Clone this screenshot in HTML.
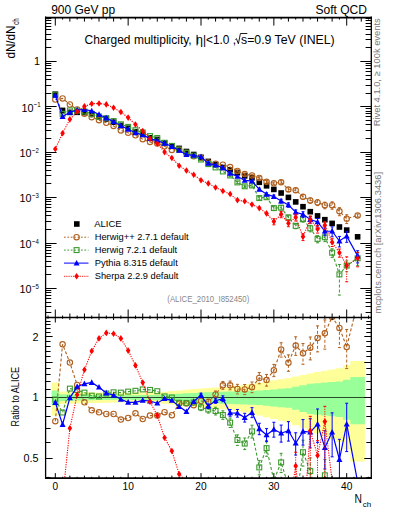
<!DOCTYPE html><html><head><meta charset="utf-8"><style>html,body{margin:0;padding:0;background:#fff;overflow:hidden}svg{display:block}</style></head><body><svg width="393" height="512" viewBox="0 0 393 512">
<rect x="0" y="0" width="393" height="512" fill="#fff"/>
<defs><clipPath id="cm"><rect x="45.6" y="17.6" width="325.7" height="299.9"/></clipPath>
<clipPath id="cr"><rect x="45.6" y="317.5" width="325.7" height="160.6"/></clipPath></defs>
<g clip-path="url(#cr)">
<path d="M51.66 382.61 L58.94 382.61 L58.94 391.43 L66.23 391.43 L66.23 391.63 L73.51 391.63 L73.51 391.83 L80.8 391.83 L80.8 392.03 L88.08 392.03 L88.08 392.23 L95.37 392.23 L95.37 392.43 L102.65 392.43 L102.65 392.63 L109.94 392.63 L109.94 392.83 L117.22 392.83 L117.22 392.76 L124.51 392.76 L124.51 392.69 L131.79 392.69 L131.79 392.62 L139.08 392.62 L139.08 392.55 L146.36 392.55 L146.36 392.48 L153.65 392.48 L153.65 392.41 L160.93 392.41 L160.93 391.73 L168.22 391.73 L168.22 391.05 L175.5 391.05 L175.5 390.38 L182.79 390.38 L182.79 389.71 L190.07 389.71 L190.07 389.05 L197.36 389.05 L197.36 388.39 L204.64 388.39 L204.64 388 L211.93 388 L211.93 387.61 L219.21 387.61 L219.21 387.22 L226.5 387.22 L226.5 386.83 L233.78 386.83 L233.78 385.76 L241.07 385.76 L241.07 384.69 L248.35 384.69 L248.35 383.65 L255.64 383.65 L255.64 382.61 L262.92 382.61 L262.92 381.44 L270.21 381.44 L270.21 380.28 L277.49 380.28 L277.49 379.15 L284.78 379.15 L284.78 378.02 L292.06 378.02 L292.06 376.45 L299.35 376.45 L299.35 374.91 L306.63 374.91 L306.63 373.4 L313.92 373.4 L313.92 372.05 L321.2 372.05 L321.2 370.72 L328.49 370.72 L328.49 369.42 L335.77 369.42 L335.77 368.13 L343.06 368.13 L343.06 365.19 L350.34 365.19 L350.34 360.95 L364.91 360.95 L364.91 461.57 L350.34 461.57 L350.34 449.37 L343.06 449.37 L343.06 442.09 L335.77 442.09 L335.77 439.16 L328.49 439.16 L328.49 436.32 L321.2 436.32 L321.2 433.57 L313.92 433.57 L313.92 430.91 L306.63 430.91 L306.63 428.06 L299.35 428.06 L299.35 425.29 L292.06 425.29 L292.06 422.61 L284.78 422.61 L284.78 420.77 L277.49 420.77 L277.49 418.97 L270.21 418.97 L270.21 417.2 L262.92 417.2 L262.92 415.46 L255.64 415.46 L255.64 413.98 L248.35 413.98 L248.35 412.51 L241.07 412.51 L241.07 411.07 L233.78 411.07 L233.78 409.66 L226.5 409.66 L226.5 409.16 L219.21 409.16 L219.21 408.66 L211.93 408.66 L211.93 408.16 L204.64 408.16 L204.64 407.67 L197.36 407.67 L197.36 406.86 L190.07 406.86 L190.07 406.05 L182.79 406.05 L182.79 405.25 L175.5 405.25 L175.5 404.46 L168.22 404.46 L168.22 403.68 L160.93 403.68 L160.93 402.9 L153.65 402.9 L153.65 402.82 L146.36 402.82 L146.36 402.75 L139.08 402.75 L139.08 402.67 L131.79 402.67 L131.79 402.59 L124.51 402.59 L124.51 402.52 L117.22 402.52 L117.22 402.44 L109.94 402.44 L109.94 402.66 L102.65 402.66 L102.65 402.89 L95.37 402.89 L95.37 403.11 L88.08 403.11 L88.08 403.34 L80.8 403.34 L80.8 403.57 L73.51 403.57 L73.51 403.79 L66.23 403.79 L66.23 404.02 L58.94 404.02 L58.94 415.46 L51.66 415.46Z" fill="#ffff99"/>
<path d="M51.66 390.38 L58.94 390.38 L58.94 394.24 L66.23 394.24 L66.23 394.4 L73.51 394.4 L73.51 394.56 L80.8 394.56 L80.8 394.71 L88.08 394.71 L88.08 394.87 L95.37 394.87 L95.37 395.03 L102.65 395.03 L102.65 395.19 L109.94 395.19 L109.94 395.34 L117.22 395.34 L117.22 395.27 L124.51 395.27 L124.51 395.2 L131.79 395.2 L131.79 395.13 L139.08 395.13 L139.08 395.06 L146.36 395.06 L146.36 394.99 L153.65 394.99 L153.65 394.92 L160.93 394.92 L160.93 394.53 L168.22 394.53 L168.22 394.13 L175.5 394.13 L175.5 393.74 L182.79 393.74 L182.79 393.35 L190.07 393.35 L190.07 392.96 L197.36 392.96 L197.36 392.58 L204.64 392.58 L204.64 392.29 L211.93 392.29 L211.93 392 L219.21 392 L219.21 391.72 L226.5 391.72 L226.5 391.43 L233.78 391.43 L233.78 391.21 L241.07 391.21 L241.07 390.98 L248.35 390.98 L248.35 390.76 L255.64 390.76 L255.64 390.54 L262.92 390.54 L262.92 389.96 L270.21 389.96 L270.21 389.38 L277.49 389.38 L277.49 388.8 L284.78 388.8 L284.78 388.23 L292.06 388.23 L292.06 386.68 L299.35 386.68 L299.35 385.15 L306.63 385.15 L306.63 383.65 L313.92 383.65 L313.92 383.13 L321.2 383.13 L321.2 382.61 L328.49 382.61 L328.49 382.1 L335.77 382.1 L335.77 381.58 L343.06 381.58 L343.06 379.74 L350.34 379.74 L350.34 377.05 L364.91 377.05 L364.91 424.26 L350.34 424.26 L350.34 419.82 L343.06 419.82 L343.06 416.98 L335.77 416.98 L335.77 416.22 L328.49 416.22 L328.49 415.46 L321.2 415.46 L321.2 414.72 L313.92 414.72 L313.92 413.98 L306.63 413.98 L306.63 411.89 L299.35 411.89 L299.35 409.86 L292.06 409.86 L292.06 407.87 L284.78 407.87 L284.78 407.16 L277.49 407.16 L277.49 406.46 L270.21 406.46 L270.21 405.76 L262.92 405.76 L262.92 405.06 L255.64 405.06 L255.64 404.8 L248.35 404.8 L248.35 404.54 L241.07 404.54 L241.07 404.28 L233.78 404.28 L233.78 404.02 L226.5 404.02 L226.5 403.69 L219.21 403.69 L219.21 403.37 L211.93 403.37 L211.93 403.04 L204.64 403.04 L204.64 402.72 L197.36 402.72 L197.36 402.28 L190.07 402.28 L190.07 401.86 L182.79 401.86 L182.79 401.43 L175.5 401.43 L175.5 401 L168.22 401 L168.22 400.58 L160.93 400.58 L160.93 400.16 L153.65 400.16 L153.65 400.08 L146.36 400.08 L146.36 400.01 L139.08 400.01 L139.08 399.93 L131.79 399.93 L131.79 399.86 L124.51 399.86 L124.51 399.78 L117.22 399.78 L117.22 399.71 L109.94 399.71 L109.94 399.88 L102.65 399.88 L102.65 400.04 L95.37 400.04 L95.37 400.21 L88.08 400.21 L88.08 400.38 L80.8 400.38 L80.8 400.55 L73.51 400.55 L73.51 400.71 L66.23 400.71 L66.23 400.88 L58.94 400.88 L58.94 405.25 L51.66 405.25Z" fill="#99ff99"/>
<line x1="45.6" y1="397.5" x2="371.3" y2="397.5" stroke="#2a4a2a" stroke-width="1.1"/>
</g>
<g clip-path="url(#cm)">
<rect x="52.5" y="91.4" width="5.6" height="5.6" fill="#000"/>
<rect x="59.78" y="107.6" width="5.6" height="5.6" fill="#000"/>
<rect x="67.07" y="109.6" width="5.6" height="5.6" fill="#000"/>
<rect x="74.36" y="109.5" width="5.6" height="5.6" fill="#000"/>
<rect x="81.64" y="109.8" width="5.6" height="5.6" fill="#000"/>
<rect x="88.92" y="111.5" width="5.6" height="5.6" fill="#000"/>
<rect x="96.21" y="114" width="5.6" height="5.6" fill="#000"/>
<rect x="103.5" y="116.2" width="5.6" height="5.6" fill="#000"/>
<rect x="110.78" y="119.4" width="5.6" height="5.6" fill="#000"/>
<rect x="118.06" y="122.6" width="5.6" height="5.6" fill="#000"/>
<rect x="125.35" y="125.4" width="5.6" height="5.6" fill="#000"/>
<rect x="132.63" y="128.9" width="5.6" height="5.6" fill="#000"/>
<rect x="139.92" y="131.5" width="5.6" height="5.6" fill="#000"/>
<rect x="147.2" y="135" width="5.6" height="5.6" fill="#000"/>
<rect x="154.49" y="136.6" width="5.6" height="5.6" fill="#000"/>
<rect x="161.77" y="140.2" width="5.6" height="5.6" fill="#000"/>
<rect x="169.06" y="143.1" width="5.6" height="5.6" fill="#000"/>
<rect x="176.34" y="145.6" width="5.6" height="5.6" fill="#000"/>
<rect x="183.63" y="148.7" width="5.6" height="5.6" fill="#000"/>
<rect x="190.91" y="151.7" width="5.6" height="5.6" fill="#000"/>
<rect x="198.2" y="154.5" width="5.6" height="5.6" fill="#000"/>
<rect x="205.49" y="158.6" width="5.6" height="5.6" fill="#000"/>
<rect x="212.77" y="161.6" width="5.6" height="5.6" fill="#000"/>
<rect x="220.06" y="164.7" width="5.6" height="5.6" fill="#000"/>
<rect x="227.34" y="167" width="5.6" height="5.6" fill="#000"/>
<rect x="234.62" y="170" width="5.6" height="5.6" fill="#000"/>
<rect x="241.91" y="173.1" width="5.6" height="5.6" fill="#000"/>
<rect x="249.19" y="175" width="5.6" height="5.6" fill="#000"/>
<rect x="256.48" y="179.5" width="5.6" height="5.6" fill="#000"/>
<rect x="263.76" y="183" width="5.6" height="5.6" fill="#000"/>
<rect x="271.05" y="186.6" width="5.6" height="5.6" fill="#000"/>
<rect x="278.33" y="190.2" width="5.6" height="5.6" fill="#000"/>
<rect x="285.62" y="194.6" width="5.6" height="5.6" fill="#000"/>
<rect x="292.9" y="199.1" width="5.6" height="5.6" fill="#000"/>
<rect x="300.19" y="203.9" width="5.6" height="5.6" fill="#000"/>
<rect x="307.47" y="208.9" width="5.6" height="5.6" fill="#000"/>
<rect x="314.76" y="213.1" width="5.6" height="5.6" fill="#000"/>
<rect x="322.05" y="216.9" width="5.6" height="5.6" fill="#000"/>
<rect x="329.33" y="220.6" width="5.6" height="5.6" fill="#000"/>
<rect x="336.62" y="224.2" width="5.6" height="5.6" fill="#000"/>
<rect x="343.9" y="227.3" width="5.6" height="5.6" fill="#000"/>
<rect x="354.83" y="234" width="5.6" height="5.6" fill="#000"/>
<path d="M55.3 99.55 L62.58 98.38 L69.87 104.52 L77.16 109.48 L84.44 113.68 L91.72 117.19 L99.01 120.14 L106.3 122.73 L113.58 125.93 L120.86 130.39 L128.15 132.83 L135.44 135.27 L142.72 139.16 L150 141.89 L157.29 143.44 L164.57 146.32 L171.86 149.9 L179.14 149.78 L186.43 152.88 L193.71 156.24 L201 158.09 L208.29 162.42 L215.57 163.7 L222.86 164.74 L230.14 167.04 L237.43 170.88 L244.71 174.07 L252 175.47 L259.28 177.9 L266.56 181.87 L273.85 183.26 L281.13 182.18 L288.42 189.54 L295.7 190.18 L302.99 196.72 L310.27 200.45 L317.56 202.44 L324.85 205.2 L332.13 205.2 L339.42 211.28 L346.7 218.67 L357.63 215.4" fill="none" stroke="#b0601e" stroke-width="1.1" stroke-dasharray="3,2"/>
<path d="M237.43 169.82V172" stroke="#b0601e" stroke-width="1" fill="none" stroke-dasharray="3,2"/>
<path d="M235.93 169.82H238.93 M235.93 172H238.93" stroke="#b0601e" stroke-width="1" fill="none"/>
<path d="M244.71 172.96V175.25" stroke="#b0601e" stroke-width="1" fill="none" stroke-dasharray="3,2"/>
<path d="M243.21 172.96H246.21 M243.21 175.25H246.21" stroke="#b0601e" stroke-width="1" fill="none"/>
<path d="M252 174.31V176.71" stroke="#b0601e" stroke-width="1" fill="none" stroke-dasharray="3,2"/>
<path d="M250.5 174.31H253.5 M250.5 176.71H253.5" stroke="#b0601e" stroke-width="1" fill="none"/>
<path d="M259.28 176.67V179.2" stroke="#b0601e" stroke-width="1" fill="none" stroke-dasharray="3,2"/>
<path d="M257.78 176.67H260.78 M257.78 179.2H260.78" stroke="#b0601e" stroke-width="1" fill="none"/>
<path d="M266.56 180.59V183.24" stroke="#b0601e" stroke-width="1" fill="none" stroke-dasharray="3,2"/>
<path d="M265.06 180.59H268.06 M265.06 183.24H268.06" stroke="#b0601e" stroke-width="1" fill="none"/>
<path d="M273.85 181.92V184.69" stroke="#b0601e" stroke-width="1" fill="none" stroke-dasharray="3,2"/>
<path d="M272.35 181.92H275.35 M272.35 184.69H275.35" stroke="#b0601e" stroke-width="1" fill="none"/>
<path d="M281.13 180.63V183.87" stroke="#b0601e" stroke-width="1" fill="none" stroke-dasharray="3,2"/>
<path d="M279.63 180.63H282.63 M279.63 183.87H282.63" stroke="#b0601e" stroke-width="1" fill="none"/>
<path d="M288.42 187.77V191.49" stroke="#b0601e" stroke-width="1" fill="none" stroke-dasharray="3,2"/>
<path d="M286.92 187.77H289.92 M286.92 191.49H289.92" stroke="#b0601e" stroke-width="1" fill="none"/>
<path d="M295.7 188.19V192.39" stroke="#b0601e" stroke-width="1" fill="none" stroke-dasharray="3,2"/>
<path d="M294.2 188.19H297.2 M294.2 192.39H297.2" stroke="#b0601e" stroke-width="1" fill="none"/>
<path d="M302.99 194.52V199.19" stroke="#b0601e" stroke-width="1" fill="none" stroke-dasharray="3,2"/>
<path d="M301.49 194.52H304.49 M301.49 199.19H304.49" stroke="#b0601e" stroke-width="1" fill="none"/>
<path d="M310.27 198.04V203.2" stroke="#b0601e" stroke-width="1" fill="none" stroke-dasharray="3,2"/>
<path d="M308.77 198.04H311.77 M308.77 203.2H311.77" stroke="#b0601e" stroke-width="1" fill="none"/>
<path d="M317.56 199.72V205.6" stroke="#b0601e" stroke-width="1" fill="none" stroke-dasharray="3,2"/>
<path d="M316.06 199.72H319.06 M316.06 205.6H319.06" stroke="#b0601e" stroke-width="1" fill="none"/>
<path d="M324.85 202.17V208.78" stroke="#b0601e" stroke-width="1" fill="none" stroke-dasharray="3,2"/>
<path d="M323.35 202.17H326.35 M323.35 208.78H326.35" stroke="#b0601e" stroke-width="1" fill="none"/>
<path d="M332.13 201.87V209.21" stroke="#b0601e" stroke-width="1" fill="none" stroke-dasharray="3,2"/>
<path d="M330.63 201.87H333.63 M330.63 209.21H333.63" stroke="#b0601e" stroke-width="1" fill="none"/>
<path d="M339.42 207.65V215.73" stroke="#b0601e" stroke-width="1" fill="none" stroke-dasharray="3,2"/>
<path d="M337.92 207.65H340.92 M337.92 215.73H340.92" stroke="#b0601e" stroke-width="1" fill="none"/>
<path d="M346.7 214.75V223.57" stroke="#b0601e" stroke-width="1" fill="none" stroke-dasharray="3,2"/>
<path d="M345.2 214.75H348.2 M345.2 223.57H348.2" stroke="#b0601e" stroke-width="1" fill="none"/>
<path d="M357.63 213.88V217.04" stroke="#b0601e" stroke-width="1" fill="none" stroke-dasharray="3,2"/>
<path d="M356.13 213.88H359.13 M356.13 217.04H359.13" stroke="#b0601e" stroke-width="1" fill="none"/>
<circle cx="55.3" cy="99.55" r="2.7" fill="none" stroke="#b0601e" stroke-width="1.1"/>
<circle cx="62.58" cy="98.38" r="2.7" fill="none" stroke="#b0601e" stroke-width="1.1"/>
<circle cx="69.87" cy="104.52" r="2.7" fill="none" stroke="#b0601e" stroke-width="1.1"/>
<circle cx="77.16" cy="109.48" r="2.7" fill="none" stroke="#b0601e" stroke-width="1.1"/>
<circle cx="84.44" cy="113.68" r="2.7" fill="none" stroke="#b0601e" stroke-width="1.1"/>
<circle cx="91.72" cy="117.19" r="2.7" fill="none" stroke="#b0601e" stroke-width="1.1"/>
<circle cx="99.01" cy="120.14" r="2.7" fill="none" stroke="#b0601e" stroke-width="1.1"/>
<circle cx="106.3" cy="122.73" r="2.7" fill="none" stroke="#b0601e" stroke-width="1.1"/>
<circle cx="113.58" cy="125.93" r="2.7" fill="none" stroke="#b0601e" stroke-width="1.1"/>
<circle cx="120.86" cy="130.39" r="2.7" fill="none" stroke="#b0601e" stroke-width="1.1"/>
<circle cx="128.15" cy="132.83" r="2.7" fill="none" stroke="#b0601e" stroke-width="1.1"/>
<circle cx="135.44" cy="135.27" r="2.7" fill="none" stroke="#b0601e" stroke-width="1.1"/>
<circle cx="142.72" cy="139.16" r="2.7" fill="none" stroke="#b0601e" stroke-width="1.1"/>
<circle cx="150" cy="141.89" r="2.7" fill="none" stroke="#b0601e" stroke-width="1.1"/>
<circle cx="157.29" cy="143.44" r="2.7" fill="none" stroke="#b0601e" stroke-width="1.1"/>
<circle cx="164.57" cy="146.32" r="2.7" fill="none" stroke="#b0601e" stroke-width="1.1"/>
<circle cx="171.86" cy="149.9" r="2.7" fill="none" stroke="#b0601e" stroke-width="1.1"/>
<circle cx="179.14" cy="149.78" r="2.7" fill="none" stroke="#b0601e" stroke-width="1.1"/>
<circle cx="186.43" cy="152.88" r="2.7" fill="none" stroke="#b0601e" stroke-width="1.1"/>
<circle cx="193.71" cy="156.24" r="2.7" fill="none" stroke="#b0601e" stroke-width="1.1"/>
<circle cx="201" cy="158.09" r="2.7" fill="none" stroke="#b0601e" stroke-width="1.1"/>
<circle cx="208.29" cy="162.42" r="2.7" fill="none" stroke="#b0601e" stroke-width="1.1"/>
<circle cx="215.57" cy="163.7" r="2.7" fill="none" stroke="#b0601e" stroke-width="1.1"/>
<circle cx="222.86" cy="164.74" r="2.7" fill="none" stroke="#b0601e" stroke-width="1.1"/>
<circle cx="230.14" cy="167.04" r="2.7" fill="none" stroke="#b0601e" stroke-width="1.1"/>
<circle cx="237.43" cy="170.88" r="2.7" fill="none" stroke="#b0601e" stroke-width="1.1"/>
<circle cx="244.71" cy="174.07" r="2.7" fill="none" stroke="#b0601e" stroke-width="1.1"/>
<circle cx="252" cy="175.47" r="2.7" fill="none" stroke="#b0601e" stroke-width="1.1"/>
<circle cx="259.28" cy="177.9" r="2.7" fill="none" stroke="#b0601e" stroke-width="1.1"/>
<circle cx="266.56" cy="181.87" r="2.7" fill="none" stroke="#b0601e" stroke-width="1.1"/>
<circle cx="273.85" cy="183.26" r="2.7" fill="none" stroke="#b0601e" stroke-width="1.1"/>
<circle cx="281.13" cy="182.18" r="2.7" fill="none" stroke="#b0601e" stroke-width="1.1"/>
<circle cx="288.42" cy="189.54" r="2.7" fill="none" stroke="#b0601e" stroke-width="1.1"/>
<circle cx="295.7" cy="190.18" r="2.7" fill="none" stroke="#b0601e" stroke-width="1.1"/>
<circle cx="302.99" cy="196.72" r="2.7" fill="none" stroke="#b0601e" stroke-width="1.1"/>
<circle cx="310.27" cy="200.45" r="2.7" fill="none" stroke="#b0601e" stroke-width="1.1"/>
<circle cx="317.56" cy="202.44" r="2.7" fill="none" stroke="#b0601e" stroke-width="1.1"/>
<circle cx="324.85" cy="205.2" r="2.7" fill="none" stroke="#b0601e" stroke-width="1.1"/>
<circle cx="332.13" cy="205.2" r="2.7" fill="none" stroke="#b0601e" stroke-width="1.1"/>
<circle cx="339.42" cy="211.28" r="2.7" fill="none" stroke="#b0601e" stroke-width="1.1"/>
<circle cx="346.7" cy="218.67" r="2.7" fill="none" stroke="#b0601e" stroke-width="1.1"/>
<circle cx="357.63" cy="215.4" r="2.7" fill="none" stroke="#b0601e" stroke-width="1.1"/>
<path d="M55.3 94.65 L62.58 113.79 L69.87 110.39 L77.16 110.61 L84.44 111.49 L91.72 113.89 L99.01 116.57 L106.3 118.1 L113.58 121.03 L120.86 124.29 L128.15 126.87 L135.44 130.19 L142.72 132.47 L150 136.08 L157.29 137.98 L164.57 142.75 L171.86 145.9 L179.14 149.57 L186.43 152.72 L193.71 155.63 L201 159.54 L208.29 164.11 L215.57 167.45 L222.86 171.45 L230.14 175.47 L237.43 182.4 L244.71 186.31 L252 185.46 L259.28 198.09 L266.56 197.23 L273.85 208.1 L281.13 207.66 L288.42 217.4 L295.7 225.9 L302.99 219.06 L310.27 228.32 L317.56 238.9 L324.85 237.27 L332.13 252.7 L339.42 274.4 L346.7 265.6 L357.63 258.3" fill="none" stroke="#3c9a2e" stroke-width="1.1" stroke-dasharray="3,2"/>
<path d="M230.14 174.43V176.57" stroke="#3c9a2e" stroke-width="1" fill="none" stroke-dasharray="3,2"/>
<path d="M228.64 174.43H231.64 M228.64 176.57H231.64" stroke="#3c9a2e" stroke-width="1" fill="none"/>
<path d="M237.43 181.25V183.62" stroke="#3c9a2e" stroke-width="1" fill="none" stroke-dasharray="3,2"/>
<path d="M235.93 181.25H238.93 M235.93 183.62H238.93" stroke="#3c9a2e" stroke-width="1" fill="none"/>
<path d="M244.71 185.05V187.67" stroke="#3c9a2e" stroke-width="1" fill="none" stroke-dasharray="3,2"/>
<path d="M243.21 185.05H246.21 M243.21 187.67H246.21" stroke="#3c9a2e" stroke-width="1" fill="none"/>
<path d="M252 184.06V186.96" stroke="#3c9a2e" stroke-width="1" fill="none" stroke-dasharray="3,2"/>
<path d="M250.5 184.06H253.5 M250.5 186.96H253.5" stroke="#3c9a2e" stroke-width="1" fill="none"/>
<path d="M259.28 196.55V199.75" stroke="#3c9a2e" stroke-width="1" fill="none" stroke-dasharray="3,2"/>
<path d="M257.78 196.55H260.78 M257.78 199.75H260.78" stroke="#3c9a2e" stroke-width="1" fill="none"/>
<path d="M266.56 195.54V199.08" stroke="#3c9a2e" stroke-width="1" fill="none" stroke-dasharray="3,2"/>
<path d="M265.06 195.54H268.06 M265.06 199.08H268.06" stroke="#3c9a2e" stroke-width="1" fill="none"/>
<path d="M273.85 206.24V210.15" stroke="#3c9a2e" stroke-width="1" fill="none" stroke-dasharray="3,2"/>
<path d="M272.35 206.24H275.35 M272.35 210.15H275.35" stroke="#3c9a2e" stroke-width="1" fill="none"/>
<path d="M281.13 205.61V209.94" stroke="#3c9a2e" stroke-width="1" fill="none" stroke-dasharray="3,2"/>
<path d="M279.63 205.61H282.63 M279.63 209.94H282.63" stroke="#3c9a2e" stroke-width="1" fill="none"/>
<path d="M288.42 215.15V219.94" stroke="#3c9a2e" stroke-width="1" fill="none" stroke-dasharray="3,2"/>
<path d="M286.92 215.15H289.92 M286.92 219.94H289.92" stroke="#3c9a2e" stroke-width="1" fill="none"/>
<path d="M295.7 223.43V228.73" stroke="#3c9a2e" stroke-width="1" fill="none" stroke-dasharray="3,2"/>
<path d="M294.2 223.43H297.2 M294.2 228.73H297.2" stroke="#3c9a2e" stroke-width="1" fill="none"/>
<path d="M302.99 216.34V222.2" stroke="#3c9a2e" stroke-width="1" fill="none" stroke-dasharray="3,2"/>
<path d="M301.49 216.34H304.49 M301.49 222.2H304.49" stroke="#3c9a2e" stroke-width="1" fill="none"/>
<path d="M310.27 225.35V231.83" stroke="#3c9a2e" stroke-width="1" fill="none" stroke-dasharray="3,2"/>
<path d="M308.77 225.35H311.77 M308.77 231.83H311.77" stroke="#3c9a2e" stroke-width="1" fill="none"/>
<path d="M317.56 235.63V242.82" stroke="#3c9a2e" stroke-width="1" fill="none" stroke-dasharray="3,2"/>
<path d="M316.06 235.63H319.06 M316.06 242.82H319.06" stroke="#3c9a2e" stroke-width="1" fill="none"/>
<path d="M324.85 233.69V241.65" stroke="#3c9a2e" stroke-width="1" fill="none" stroke-dasharray="3,2"/>
<path d="M323.35 233.69H326.35 M323.35 241.65H326.35" stroke="#3c9a2e" stroke-width="1" fill="none"/>
<path d="M332.13 248.78V257.6" stroke="#3c9a2e" stroke-width="1" fill="none" stroke-dasharray="3,2"/>
<path d="M330.63 248.78H333.63 M330.63 257.6H333.63" stroke="#3c9a2e" stroke-width="1" fill="none"/>
<path d="M339.42 264.53V295.1" stroke="#3c9a2e" stroke-width="1" fill="none" stroke-dasharray="3,2"/>
<path d="M337.92 264.53H340.92 M337.92 295.1H340.92" stroke="#3c9a2e" stroke-width="1" fill="none"/>
<path d="M346.7 260.9V271.78" stroke="#3c9a2e" stroke-width="1" fill="none" stroke-dasharray="3,2"/>
<path d="M345.2 260.9H348.2 M345.2 271.78H348.2" stroke="#3c9a2e" stroke-width="1" fill="none"/>
<path d="M357.63 252.94V265.69" stroke="#3c9a2e" stroke-width="1" fill="none" stroke-dasharray="3,2"/>
<path d="M356.13 252.94H359.13 M356.13 265.69H359.13" stroke="#3c9a2e" stroke-width="1" fill="none"/>
<rect x="52.85" y="92.2" width="4.9" height="4.9" fill="none" stroke="#3c9a2e" stroke-width="1.1"/>
<rect x="60.13" y="111.34" width="4.9" height="4.9" fill="none" stroke="#3c9a2e" stroke-width="1.1"/>
<rect x="67.42" y="107.94" width="4.9" height="4.9" fill="none" stroke="#3c9a2e" stroke-width="1.1"/>
<rect x="74.7" y="108.16" width="4.9" height="4.9" fill="none" stroke="#3c9a2e" stroke-width="1.1"/>
<rect x="81.99" y="109.04" width="4.9" height="4.9" fill="none" stroke="#3c9a2e" stroke-width="1.1"/>
<rect x="89.27" y="111.44" width="4.9" height="4.9" fill="none" stroke="#3c9a2e" stroke-width="1.1"/>
<rect x="96.56" y="114.12" width="4.9" height="4.9" fill="none" stroke="#3c9a2e" stroke-width="1.1"/>
<rect x="103.84" y="115.65" width="4.9" height="4.9" fill="none" stroke="#3c9a2e" stroke-width="1.1"/>
<rect x="111.13" y="118.58" width="4.9" height="4.9" fill="none" stroke="#3c9a2e" stroke-width="1.1"/>
<rect x="118.41" y="121.84" width="4.9" height="4.9" fill="none" stroke="#3c9a2e" stroke-width="1.1"/>
<rect x="125.7" y="124.42" width="4.9" height="4.9" fill="none" stroke="#3c9a2e" stroke-width="1.1"/>
<rect x="132.99" y="127.74" width="4.9" height="4.9" fill="none" stroke="#3c9a2e" stroke-width="1.1"/>
<rect x="140.27" y="130.02" width="4.9" height="4.9" fill="none" stroke="#3c9a2e" stroke-width="1.1"/>
<rect x="147.56" y="133.63" width="4.9" height="4.9" fill="none" stroke="#3c9a2e" stroke-width="1.1"/>
<rect x="154.84" y="135.53" width="4.9" height="4.9" fill="none" stroke="#3c9a2e" stroke-width="1.1"/>
<rect x="162.12" y="140.3" width="4.9" height="4.9" fill="none" stroke="#3c9a2e" stroke-width="1.1"/>
<rect x="169.41" y="143.45" width="4.9" height="4.9" fill="none" stroke="#3c9a2e" stroke-width="1.1"/>
<rect x="176.69" y="147.12" width="4.9" height="4.9" fill="none" stroke="#3c9a2e" stroke-width="1.1"/>
<rect x="183.98" y="150.27" width="4.9" height="4.9" fill="none" stroke="#3c9a2e" stroke-width="1.1"/>
<rect x="191.26" y="153.18" width="4.9" height="4.9" fill="none" stroke="#3c9a2e" stroke-width="1.1"/>
<rect x="198.55" y="157.09" width="4.9" height="4.9" fill="none" stroke="#3c9a2e" stroke-width="1.1"/>
<rect x="205.84" y="161.66" width="4.9" height="4.9" fill="none" stroke="#3c9a2e" stroke-width="1.1"/>
<rect x="213.12" y="165" width="4.9" height="4.9" fill="none" stroke="#3c9a2e" stroke-width="1.1"/>
<rect x="220.41" y="169" width="4.9" height="4.9" fill="none" stroke="#3c9a2e" stroke-width="1.1"/>
<rect x="227.69" y="173.02" width="4.9" height="4.9" fill="none" stroke="#3c9a2e" stroke-width="1.1"/>
<rect x="234.98" y="179.95" width="4.9" height="4.9" fill="none" stroke="#3c9a2e" stroke-width="1.1"/>
<rect x="242.26" y="183.86" width="4.9" height="4.9" fill="none" stroke="#3c9a2e" stroke-width="1.1"/>
<rect x="249.55" y="183.01" width="4.9" height="4.9" fill="none" stroke="#3c9a2e" stroke-width="1.1"/>
<rect x="256.83" y="195.64" width="4.9" height="4.9" fill="none" stroke="#3c9a2e" stroke-width="1.1"/>
<rect x="264.12" y="194.78" width="4.9" height="4.9" fill="none" stroke="#3c9a2e" stroke-width="1.1"/>
<rect x="271.4" y="205.65" width="4.9" height="4.9" fill="none" stroke="#3c9a2e" stroke-width="1.1"/>
<rect x="278.69" y="205.21" width="4.9" height="4.9" fill="none" stroke="#3c9a2e" stroke-width="1.1"/>
<rect x="285.97" y="214.95" width="4.9" height="4.9" fill="none" stroke="#3c9a2e" stroke-width="1.1"/>
<rect x="293.25" y="223.45" width="4.9" height="4.9" fill="none" stroke="#3c9a2e" stroke-width="1.1"/>
<rect x="300.54" y="216.61" width="4.9" height="4.9" fill="none" stroke="#3c9a2e" stroke-width="1.1"/>
<rect x="307.82" y="225.87" width="4.9" height="4.9" fill="none" stroke="#3c9a2e" stroke-width="1.1"/>
<rect x="315.11" y="236.45" width="4.9" height="4.9" fill="none" stroke="#3c9a2e" stroke-width="1.1"/>
<rect x="322.4" y="234.82" width="4.9" height="4.9" fill="none" stroke="#3c9a2e" stroke-width="1.1"/>
<rect x="329.68" y="250.25" width="4.9" height="4.9" fill="none" stroke="#3c9a2e" stroke-width="1.1"/>
<rect x="336.97" y="271.95" width="4.9" height="4.9" fill="none" stroke="#3c9a2e" stroke-width="1.1"/>
<rect x="344.25" y="263.15" width="4.9" height="4.9" fill="none" stroke="#3c9a2e" stroke-width="1.1"/>
<rect x="355.18" y="255.85" width="4.9" height="4.9" fill="none" stroke="#3c9a2e" stroke-width="1.1"/>
<path d="M55.3 95.33 L62.58 116.5 L69.87 112.47 L77.16 109.88 L84.44 109.51 L91.72 110.91 L99.01 114.47 L106.3 117.98 L113.58 121.7 L120.86 125.81 L128.15 129.28 L135.44 132.78 L142.72 134.93 L150 138.59 L157.29 140.69 L164.57 143.25 L171.86 146.56 L179.14 150.46 L186.43 154.68 L193.71 155.4 L201 156.78 L208.29 163.37 L215.57 165.12 L222.86 167.77 L230.14 173.26 L237.43 176.35 L244.71 180.44 L252 181.19 L259.28 189.37 L266.56 194.25 L273.85 196.61 L281.13 201.06 L288.42 204.92 L295.7 212.22 L302.99 214.36 L310.27 219.52 L317.56 221.91 L324.85 231.04 L332.13 231.22 L339.42 241 L346.7 236.11 L357.63 255.89" fill="none" stroke="#0000ff" stroke-width="1.2"/>
<path d="M252 180.09V182.35" stroke="#0000ff" stroke-width="1" fill="none"/>
<path d="M250.5 180.09H253.5 M250.5 182.35H253.5" stroke="#0000ff" stroke-width="1" fill="none"/>
<path d="M259.28 188.12V190.7" stroke="#0000ff" stroke-width="1" fill="none"/>
<path d="M257.78 188.12H260.78 M257.78 190.7H260.78" stroke="#0000ff" stroke-width="1" fill="none"/>
<path d="M266.56 192.83V195.77" stroke="#0000ff" stroke-width="1" fill="none"/>
<path d="M265.06 192.83H268.06 M265.06 195.77H268.06" stroke="#0000ff" stroke-width="1" fill="none"/>
<path d="M273.85 194.99V198.36" stroke="#0000ff" stroke-width="1" fill="none"/>
<path d="M272.35 194.99H275.35 M272.35 198.36H275.35" stroke="#0000ff" stroke-width="1" fill="none"/>
<path d="M281.13 199.23V203.08" stroke="#0000ff" stroke-width="1" fill="none"/>
<path d="M279.63 199.23H282.63 M279.63 203.08H282.63" stroke="#0000ff" stroke-width="1" fill="none"/>
<path d="M288.42 202.85V207.24" stroke="#0000ff" stroke-width="1" fill="none"/>
<path d="M286.92 202.85H289.92 M286.92 207.24H289.92" stroke="#0000ff" stroke-width="1" fill="none"/>
<path d="M295.7 209.87V214.9" stroke="#0000ff" stroke-width="1" fill="none"/>
<path d="M294.2 209.87H297.2 M294.2 214.9H297.2" stroke="#0000ff" stroke-width="1" fill="none"/>
<path d="M302.99 211.69V217.44" stroke="#0000ff" stroke-width="1" fill="none"/>
<path d="M301.49 211.69H304.49 M301.49 217.44H304.49" stroke="#0000ff" stroke-width="1" fill="none"/>
<path d="M310.27 216.5V223.08" stroke="#0000ff" stroke-width="1" fill="none"/>
<path d="M308.77 216.5H311.77 M308.77 223.08H311.77" stroke="#0000ff" stroke-width="1" fill="none"/>
<path d="M317.56 218.49V226.04" stroke="#0000ff" stroke-width="1" fill="none"/>
<path d="M316.06 218.49H319.06 M316.06 226.04H319.06" stroke="#0000ff" stroke-width="1" fill="none"/>
<path d="M324.85 227.18V235.84" stroke="#0000ff" stroke-width="1" fill="none"/>
<path d="M323.35 227.18H326.35 M323.35 235.84H326.35" stroke="#0000ff" stroke-width="1" fill="none"/>
<path d="M332.13 226.87V236.8" stroke="#0000ff" stroke-width="1" fill="none"/>
<path d="M330.63 226.87H333.63 M330.63 236.8H333.63" stroke="#0000ff" stroke-width="1" fill="none"/>
<path d="M339.42 236.45V246.94" stroke="#0000ff" stroke-width="1" fill="none"/>
<path d="M337.92 236.45H340.92 M337.92 246.94H340.92" stroke="#0000ff" stroke-width="1" fill="none"/>
<path d="M346.7 231.4V242.31" stroke="#0000ff" stroke-width="1" fill="none"/>
<path d="M345.2 231.4H348.2 M345.2 242.31H348.2" stroke="#0000ff" stroke-width="1" fill="none"/>
<path d="M357.63 250.71V262.92" stroke="#0000ff" stroke-width="1" fill="none"/>
<path d="M356.13 250.71H359.13 M356.13 262.92H359.13" stroke="#0000ff" stroke-width="1" fill="none"/>
<path d="M55.3 92.13L58.3 97.73L52.3 97.73Z" fill="#0000ff"/>
<path d="M62.58 113.3L65.58 118.9L59.58 118.9Z" fill="#0000ff"/>
<path d="M69.87 109.27L72.87 114.87L66.87 114.87Z" fill="#0000ff"/>
<path d="M77.16 106.68L80.16 112.28L74.16 112.28Z" fill="#0000ff"/>
<path d="M84.44 106.31L87.44 111.91L81.44 111.91Z" fill="#0000ff"/>
<path d="M91.72 107.71L94.72 113.31L88.72 113.31Z" fill="#0000ff"/>
<path d="M99.01 111.27L102.01 116.87L96.01 116.87Z" fill="#0000ff"/>
<path d="M106.3 114.78L109.3 120.38L103.3 120.38Z" fill="#0000ff"/>
<path d="M113.58 118.5L116.58 124.1L110.58 124.1Z" fill="#0000ff"/>
<path d="M120.86 122.61L123.86 128.21L117.86 128.21Z" fill="#0000ff"/>
<path d="M128.15 126.08L131.15 131.68L125.15 131.68Z" fill="#0000ff"/>
<path d="M135.44 129.58L138.44 135.18L132.44 135.18Z" fill="#0000ff"/>
<path d="M142.72 131.73L145.72 137.33L139.72 137.33Z" fill="#0000ff"/>
<path d="M150 135.39L153 140.99L147 140.99Z" fill="#0000ff"/>
<path d="M157.29 137.49L160.29 143.09L154.29 143.09Z" fill="#0000ff"/>
<path d="M164.57 140.05L167.57 145.65L161.57 145.65Z" fill="#0000ff"/>
<path d="M171.86 143.36L174.86 148.96L168.86 148.96Z" fill="#0000ff"/>
<path d="M179.14 147.26L182.14 152.86L176.14 152.86Z" fill="#0000ff"/>
<path d="M186.43 151.48L189.43 157.08L183.43 157.08Z" fill="#0000ff"/>
<path d="M193.71 152.2L196.71 157.8L190.71 157.8Z" fill="#0000ff"/>
<path d="M201 153.58L204 159.18L198 159.18Z" fill="#0000ff"/>
<path d="M208.29 160.17L211.29 165.77L205.29 165.77Z" fill="#0000ff"/>
<path d="M215.57 161.92L218.57 167.52L212.57 167.52Z" fill="#0000ff"/>
<path d="M222.86 164.57L225.86 170.17L219.86 170.17Z" fill="#0000ff"/>
<path d="M230.14 170.06L233.14 175.66L227.14 175.66Z" fill="#0000ff"/>
<path d="M237.43 173.15L240.43 178.75L234.43 178.75Z" fill="#0000ff"/>
<path d="M244.71 177.24L247.71 182.84L241.71 182.84Z" fill="#0000ff"/>
<path d="M252 177.99L255 183.59L249 183.59Z" fill="#0000ff"/>
<path d="M259.28 186.17L262.28 191.77L256.28 191.77Z" fill="#0000ff"/>
<path d="M266.56 191.05L269.56 196.65L263.56 196.65Z" fill="#0000ff"/>
<path d="M273.85 193.41L276.85 199.01L270.85 199.01Z" fill="#0000ff"/>
<path d="M281.13 197.86L284.13 203.46L278.13 203.46Z" fill="#0000ff"/>
<path d="M288.42 201.72L291.42 207.32L285.42 207.32Z" fill="#0000ff"/>
<path d="M295.7 209.02L298.7 214.62L292.7 214.62Z" fill="#0000ff"/>
<path d="M302.99 211.16L305.99 216.76L299.99 216.76Z" fill="#0000ff"/>
<path d="M310.27 216.32L313.27 221.92L307.27 221.92Z" fill="#0000ff"/>
<path d="M317.56 218.71L320.56 224.31L314.56 224.31Z" fill="#0000ff"/>
<path d="M324.85 227.84L327.85 233.44L321.85 233.44Z" fill="#0000ff"/>
<path d="M332.13 228.02L335.13 233.62L329.13 233.62Z" fill="#0000ff"/>
<path d="M339.42 237.8L342.42 243.4L336.42 243.4Z" fill="#0000ff"/>
<path d="M346.7 232.91L349.7 238.51L343.7 238.51Z" fill="#0000ff"/>
<path d="M357.63 252.69L360.63 258.29L354.63 258.29Z" fill="#0000ff"/>
<path d="M55.3 149 L62.58 133.2 L69.87 119.36 L77.16 111.67 L84.44 106.34 L91.72 103.8 L99.01 103.45 L106.3 104.41 L113.58 107.79 L120.86 112.05 L128.15 117.61 L135.44 124.45 L142.72 130.93 L150 138.75 L157.29 143.44 L164.57 152.08 L171.86 157.98 L179.14 165.68 L186.43 170.5 L193.71 174.7 L201 180.2 L208.29 183.4 L215.57 187.5 L222.86 191 L230.14 194 L237.43 200.1 L244.71 201.3 L252 204.5 L259.28 208.1 L266.56 213.4 L273.85 221.5 L281.13 214.3 L288.42 223.2 L295.7 217.35 L302.99 236.8 L310.27 219.22 L317.56 229 L324.85 225.14 L332.13 242.2 L339.42 252.7 L346.7 265.6 L357.63 258.3" fill="none" stroke="#ff0000" stroke-width="1.1" stroke-dasharray="1.2,1.2"/>
<path d="M273.85 218.66V224.82" stroke="#ff0000" stroke-width="1" fill="none" stroke-dasharray="1.2,1.2"/>
<path d="M272.35 218.66H275.35 M272.35 224.82H275.35" stroke="#ff0000" stroke-width="1" fill="none"/>
<path d="M281.13 211.38V217.73" stroke="#ff0000" stroke-width="1" fill="none" stroke-dasharray="1.2,1.2"/>
<path d="M279.63 211.38H282.63 M279.63 217.73H282.63" stroke="#ff0000" stroke-width="1" fill="none"/>
<path d="M288.42 220.2V226.74" stroke="#ff0000" stroke-width="1" fill="none" stroke-dasharray="1.2,1.2"/>
<path d="M286.92 220.2H289.92 M286.92 226.74H289.92" stroke="#ff0000" stroke-width="1" fill="none"/>
<path d="M295.7 214.26V221.01" stroke="#ff0000" stroke-width="1" fill="none" stroke-dasharray="1.2,1.2"/>
<path d="M294.2 214.26H297.2 M294.2 221.01H297.2" stroke="#ff0000" stroke-width="1" fill="none"/>
<path d="M302.99 233.63V240.59" stroke="#ff0000" stroke-width="1" fill="none" stroke-dasharray="1.2,1.2"/>
<path d="M301.49 233.63H304.49 M301.49 240.59H304.49" stroke="#ff0000" stroke-width="1" fill="none"/>
<path d="M310.27 215.96V223.13" stroke="#ff0000" stroke-width="1" fill="none" stroke-dasharray="1.2,1.2"/>
<path d="M308.77 215.96H311.77 M308.77 223.13H311.77" stroke="#ff0000" stroke-width="1" fill="none"/>
<path d="M317.56 225.65V233.05" stroke="#ff0000" stroke-width="1" fill="none" stroke-dasharray="1.2,1.2"/>
<path d="M316.06 225.65H319.06 M316.06 233.05H319.06" stroke="#ff0000" stroke-width="1" fill="none"/>
<path d="M324.85 221.69V229.33" stroke="#ff0000" stroke-width="1" fill="none" stroke-dasharray="1.2,1.2"/>
<path d="M323.35 221.69H326.35 M323.35 229.33H326.35" stroke="#ff0000" stroke-width="1" fill="none"/>
<path d="M332.13 238.66V246.52" stroke="#ff0000" stroke-width="1" fill="none" stroke-dasharray="1.2,1.2"/>
<path d="M330.63 238.66H333.63 M330.63 246.52H333.63" stroke="#ff0000" stroke-width="1" fill="none"/>
<path d="M339.42 249.06V257.17" stroke="#ff0000" stroke-width="1" fill="none" stroke-dasharray="1.2,1.2"/>
<path d="M337.92 249.06H340.92 M337.92 257.17H340.92" stroke="#ff0000" stroke-width="1" fill="none"/>
<path d="M346.7 256.83V281.79" stroke="#ff0000" stroke-width="1" fill="none" stroke-dasharray="1.2,1.2"/>
<path d="M345.2 256.83H348.2 M345.2 281.79H348.2" stroke="#ff0000" stroke-width="1" fill="none"/>
<path d="M357.63 252.38V266.79" stroke="#ff0000" stroke-width="1" fill="none" stroke-dasharray="1.2,1.2"/>
<path d="M356.13 252.38H359.13 M356.13 266.79H359.13" stroke="#ff0000" stroke-width="1" fill="none"/>
<path d="M55.3 145.7L57.6 149L55.3 152.3L53 149Z" fill="#ff0000"/>
<path d="M62.58 129.9L64.88 133.2L62.58 136.5L60.28 133.2Z" fill="#ff0000"/>
<path d="M69.87 116.06L72.17 119.36L69.87 122.66L67.57 119.36Z" fill="#ff0000"/>
<path d="M77.16 108.37L79.45 111.67L77.16 114.97L74.86 111.67Z" fill="#ff0000"/>
<path d="M84.44 103.04L86.74 106.34L84.44 109.64L82.14 106.34Z" fill="#ff0000"/>
<path d="M91.72 100.5L94.02 103.8L91.72 107.1L89.42 103.8Z" fill="#ff0000"/>
<path d="M99.01 100.15L101.31 103.45L99.01 106.75L96.71 103.45Z" fill="#ff0000"/>
<path d="M106.3 101.11L108.59 104.41L106.3 107.71L104 104.41Z" fill="#ff0000"/>
<path d="M113.58 104.49L115.88 107.79L113.58 111.09L111.28 107.79Z" fill="#ff0000"/>
<path d="M120.86 108.75L123.16 112.05L120.86 115.35L118.56 112.05Z" fill="#ff0000"/>
<path d="M128.15 114.31L130.45 117.61L128.15 120.91L125.85 117.61Z" fill="#ff0000"/>
<path d="M135.44 121.15L137.74 124.45L135.44 127.75L133.13 124.45Z" fill="#ff0000"/>
<path d="M142.72 127.63L145.02 130.93L142.72 134.23L140.42 130.93Z" fill="#ff0000"/>
<path d="M150 135.45L152.31 138.75L150 142.05L147.7 138.75Z" fill="#ff0000"/>
<path d="M157.29 140.14L159.59 143.44L157.29 146.74L154.99 143.44Z" fill="#ff0000"/>
<path d="M164.57 148.78L166.88 152.08L164.57 155.38L162.27 152.08Z" fill="#ff0000"/>
<path d="M171.86 154.68L174.16 157.98L171.86 161.28L169.56 157.98Z" fill="#ff0000"/>
<path d="M179.14 162.38L181.44 165.68L179.14 168.98L176.84 165.68Z" fill="#ff0000"/>
<path d="M186.43 167.2L188.73 170.5L186.43 173.8L184.13 170.5Z" fill="#ff0000"/>
<path d="M193.71 171.4L196.01 174.7L193.71 178L191.41 174.7Z" fill="#ff0000"/>
<path d="M201 176.9L203.3 180.2L201 183.5L198.7 180.2Z" fill="#ff0000"/>
<path d="M208.29 180.1L210.59 183.4L208.29 186.7L205.99 183.4Z" fill="#ff0000"/>
<path d="M215.57 184.2L217.87 187.5L215.57 190.8L213.27 187.5Z" fill="#ff0000"/>
<path d="M222.86 187.7L225.16 191L222.86 194.3L220.56 191Z" fill="#ff0000"/>
<path d="M230.14 190.7L232.44 194L230.14 197.3L227.84 194Z" fill="#ff0000"/>
<path d="M237.43 196.8L239.73 200.1L237.43 203.4L235.12 200.1Z" fill="#ff0000"/>
<path d="M244.71 198L247.01 201.3L244.71 204.6L242.41 201.3Z" fill="#ff0000"/>
<path d="M252 201.2L254.3 204.5L252 207.8L249.69 204.5Z" fill="#ff0000"/>
<path d="M259.28 204.8L261.58 208.1L259.28 211.4L256.98 208.1Z" fill="#ff0000"/>
<path d="M266.56 210.1L268.87 213.4L266.56 216.7L264.26 213.4Z" fill="#ff0000"/>
<path d="M273.85 218.2L276.15 221.5L273.85 224.8L271.55 221.5Z" fill="#ff0000"/>
<path d="M281.13 211L283.44 214.3L281.13 217.6L278.83 214.3Z" fill="#ff0000"/>
<path d="M288.42 219.9L290.72 223.2L288.42 226.5L286.12 223.2Z" fill="#ff0000"/>
<path d="M295.7 214.05L298 217.35L295.7 220.65L293.4 217.35Z" fill="#ff0000"/>
<path d="M302.99 233.5L305.29 236.8L302.99 240.1L300.69 236.8Z" fill="#ff0000"/>
<path d="M310.27 215.92L312.57 219.22L310.27 222.52L307.97 219.22Z" fill="#ff0000"/>
<path d="M317.56 225.7L319.86 229L317.56 232.3L315.26 229Z" fill="#ff0000"/>
<path d="M324.85 221.84L327.15 225.14L324.85 228.44L322.55 225.14Z" fill="#ff0000"/>
<path d="M332.13 238.9L334.43 242.2L332.13 245.5L329.83 242.2Z" fill="#ff0000"/>
<path d="M339.42 249.4L341.72 252.7L339.42 256L337.12 252.7Z" fill="#ff0000"/>
<path d="M346.7 262.3L349 265.6L346.7 268.9L344.4 265.6Z" fill="#ff0000"/>
<path d="M357.63 255L359.93 258.3L357.63 261.6L355.33 258.3Z" fill="#ff0000"/>
</g>
<g clip-path="url(#cr)">
<path d="M55.3 421.2 L62.58 344.3 L69.87 362.6 L77.16 385 L84.44 402.3 L91.72 410.3 L99.01 412.3 L106.3 414 L113.58 414 L120.86 419.6 L128.15 418 L135.44 413.3 L142.72 419 L150 415.6 L157.29 415.4 L164.57 412.2 L171.86 415.2 L179.14 403.6 L186.43 403.6 L193.71 405.2 L201 401 L208.29 402 L215.57 394.4 L222.86 385.3 L230.14 385.3 L237.43 389 L244.71 389.4 L252 387.2 L259.28 378 L266.56 380.1 L273.85 370.3 L281.13 349.6 L288.42 362.7 L295.7 345.6 L302.99 353.3 L310.27 347.7 L317.56 337.9 L324.85 333.3 L332.13 316.92 L339.42 327.9 L346.7 346.9 L357.63 302.76" fill="none" stroke="#b0601e" stroke-width="1.1" stroke-dasharray="3,2"/>
<path d="M208.29 399V405.11" stroke="#b0601e" stroke-width="1" fill="none" stroke-dasharray="3,2"/>
<path d="M206.79 399H209.79 M206.79 405.11H209.79" stroke="#b0601e" stroke-width="1" fill="none"/>
<path d="M215.57 390.98V397.96" stroke="#b0601e" stroke-width="1" fill="none" stroke-dasharray="3,2"/>
<path d="M214.07 390.98H217.07 M214.07 397.96H217.07" stroke="#b0601e" stroke-width="1" fill="none"/>
<path d="M222.86 381.46V389.32" stroke="#b0601e" stroke-width="1" fill="none" stroke-dasharray="3,2"/>
<path d="M221.36 381.46H224.36 M221.36 389.32H224.36" stroke="#b0601e" stroke-width="1" fill="none"/>
<path d="M230.14 381.04V389.78" stroke="#b0601e" stroke-width="1" fill="none" stroke-dasharray="3,2"/>
<path d="M228.64 381.04H231.64 M228.64 389.78H231.64" stroke="#b0601e" stroke-width="1" fill="none"/>
<path d="M237.43 384.33V393.94" stroke="#b0601e" stroke-width="1" fill="none" stroke-dasharray="3,2"/>
<path d="M235.93 384.33H238.93 M235.93 393.94H238.93" stroke="#b0601e" stroke-width="1" fill="none"/>
<path d="M244.71 384.48V394.62" stroke="#b0601e" stroke-width="1" fill="none" stroke-dasharray="3,2"/>
<path d="M243.21 384.48H246.21 M243.21 394.62H246.21" stroke="#b0601e" stroke-width="1" fill="none"/>
<path d="M252 382.03V392.69" stroke="#b0601e" stroke-width="1" fill="none" stroke-dasharray="3,2"/>
<path d="M250.5 382.03H253.5 M250.5 392.69H253.5" stroke="#b0601e" stroke-width="1" fill="none"/>
<path d="M259.28 372.58V383.77" stroke="#b0601e" stroke-width="1" fill="none" stroke-dasharray="3,2"/>
<path d="M257.78 372.58H260.78 M257.78 383.77H260.78" stroke="#b0601e" stroke-width="1" fill="none"/>
<path d="M266.56 374.44V386.15" stroke="#b0601e" stroke-width="1" fill="none" stroke-dasharray="3,2"/>
<path d="M265.06 374.44H268.06 M265.06 386.15H268.06" stroke="#b0601e" stroke-width="1" fill="none"/>
<path d="M273.85 364.39V376.63" stroke="#b0601e" stroke-width="1" fill="none" stroke-dasharray="3,2"/>
<path d="M272.35 364.39H275.35 M272.35 376.63H275.35" stroke="#b0601e" stroke-width="1" fill="none"/>
<path d="M281.13 342.72V357.07" stroke="#b0601e" stroke-width="1" fill="none" stroke-dasharray="3,2"/>
<path d="M279.63 342.72H282.63 M279.63 357.07H282.63" stroke="#b0601e" stroke-width="1" fill="none"/>
<path d="M288.42 354.86V371.32" stroke="#b0601e" stroke-width="1" fill="none" stroke-dasharray="3,2"/>
<path d="M286.92 354.86H289.92 M286.92 371.32H289.92" stroke="#b0601e" stroke-width="1" fill="none"/>
<path d="M295.7 336.81V355.38" stroke="#b0601e" stroke-width="1" fill="none" stroke-dasharray="3,2"/>
<path d="M294.2 336.81H297.2 M294.2 355.38H297.2" stroke="#b0601e" stroke-width="1" fill="none"/>
<path d="M302.99 343.56V364.26" stroke="#b0601e" stroke-width="1" fill="none" stroke-dasharray="3,2"/>
<path d="M301.49 343.56H304.49 M301.49 364.26H304.49" stroke="#b0601e" stroke-width="1" fill="none"/>
<path d="M310.27 337.03V359.86" stroke="#b0601e" stroke-width="1" fill="none" stroke-dasharray="3,2"/>
<path d="M308.77 337.03H311.77 M308.77 359.86H311.77" stroke="#b0601e" stroke-width="1" fill="none"/>
<path d="M317.56 325.85V351.88" stroke="#b0601e" stroke-width="1" fill="none" stroke-dasharray="3,2"/>
<path d="M316.06 325.85H319.06 M316.06 351.88H319.06" stroke="#b0601e" stroke-width="1" fill="none"/>
<path d="M324.85 319.89V349.15" stroke="#b0601e" stroke-width="1" fill="none" stroke-dasharray="3,2"/>
<path d="M323.35 319.89H326.35 M323.35 349.15H326.35" stroke="#b0601e" stroke-width="1" fill="none"/>
<path d="M339.42 311.84V347.6" stroke="#b0601e" stroke-width="1" fill="none" stroke-dasharray="3,2"/>
<path d="M337.92 311.84H340.92 M337.92 347.6H340.92" stroke="#b0601e" stroke-width="1" fill="none"/>
<path d="M346.7 329.54V368.59" stroke="#b0601e" stroke-width="1" fill="none" stroke-dasharray="3,2"/>
<path d="M345.2 329.54H348.2 M345.2 368.59H348.2" stroke="#b0601e" stroke-width="1" fill="none"/>
<circle cx="55.3" cy="421.2" r="2.7" fill="none" stroke="#b0601e" stroke-width="1.1"/>
<circle cx="62.58" cy="344.3" r="2.7" fill="none" stroke="#b0601e" stroke-width="1.1"/>
<circle cx="69.87" cy="362.6" r="2.7" fill="none" stroke="#b0601e" stroke-width="1.1"/>
<circle cx="77.16" cy="385" r="2.7" fill="none" stroke="#b0601e" stroke-width="1.1"/>
<circle cx="84.44" cy="402.3" r="2.7" fill="none" stroke="#b0601e" stroke-width="1.1"/>
<circle cx="91.72" cy="410.3" r="2.7" fill="none" stroke="#b0601e" stroke-width="1.1"/>
<circle cx="99.01" cy="412.3" r="2.7" fill="none" stroke="#b0601e" stroke-width="1.1"/>
<circle cx="106.3" cy="414" r="2.7" fill="none" stroke="#b0601e" stroke-width="1.1"/>
<circle cx="113.58" cy="414" r="2.7" fill="none" stroke="#b0601e" stroke-width="1.1"/>
<circle cx="120.86" cy="419.6" r="2.7" fill="none" stroke="#b0601e" stroke-width="1.1"/>
<circle cx="128.15" cy="418" r="2.7" fill="none" stroke="#b0601e" stroke-width="1.1"/>
<circle cx="135.44" cy="413.3" r="2.7" fill="none" stroke="#b0601e" stroke-width="1.1"/>
<circle cx="142.72" cy="419" r="2.7" fill="none" stroke="#b0601e" stroke-width="1.1"/>
<circle cx="150" cy="415.6" r="2.7" fill="none" stroke="#b0601e" stroke-width="1.1"/>
<circle cx="157.29" cy="415.4" r="2.7" fill="none" stroke="#b0601e" stroke-width="1.1"/>
<circle cx="164.57" cy="412.2" r="2.7" fill="none" stroke="#b0601e" stroke-width="1.1"/>
<circle cx="171.86" cy="415.2" r="2.7" fill="none" stroke="#b0601e" stroke-width="1.1"/>
<circle cx="179.14" cy="403.6" r="2.7" fill="none" stroke="#b0601e" stroke-width="1.1"/>
<circle cx="186.43" cy="403.6" r="2.7" fill="none" stroke="#b0601e" stroke-width="1.1"/>
<circle cx="193.71" cy="405.2" r="2.7" fill="none" stroke="#b0601e" stroke-width="1.1"/>
<circle cx="201" cy="401" r="2.7" fill="none" stroke="#b0601e" stroke-width="1.1"/>
<circle cx="208.29" cy="402" r="2.7" fill="none" stroke="#b0601e" stroke-width="1.1"/>
<circle cx="215.57" cy="394.4" r="2.7" fill="none" stroke="#b0601e" stroke-width="1.1"/>
<circle cx="222.86" cy="385.3" r="2.7" fill="none" stroke="#b0601e" stroke-width="1.1"/>
<circle cx="230.14" cy="385.3" r="2.7" fill="none" stroke="#b0601e" stroke-width="1.1"/>
<circle cx="237.43" cy="389" r="2.7" fill="none" stroke="#b0601e" stroke-width="1.1"/>
<circle cx="244.71" cy="389.4" r="2.7" fill="none" stroke="#b0601e" stroke-width="1.1"/>
<circle cx="252" cy="387.2" r="2.7" fill="none" stroke="#b0601e" stroke-width="1.1"/>
<circle cx="259.28" cy="378" r="2.7" fill="none" stroke="#b0601e" stroke-width="1.1"/>
<circle cx="266.56" cy="380.1" r="2.7" fill="none" stroke="#b0601e" stroke-width="1.1"/>
<circle cx="273.85" cy="370.3" r="2.7" fill="none" stroke="#b0601e" stroke-width="1.1"/>
<circle cx="281.13" cy="349.6" r="2.7" fill="none" stroke="#b0601e" stroke-width="1.1"/>
<circle cx="288.42" cy="362.7" r="2.7" fill="none" stroke="#b0601e" stroke-width="1.1"/>
<circle cx="295.7" cy="345.6" r="2.7" fill="none" stroke="#b0601e" stroke-width="1.1"/>
<circle cx="302.99" cy="353.3" r="2.7" fill="none" stroke="#b0601e" stroke-width="1.1"/>
<circle cx="310.27" cy="347.7" r="2.7" fill="none" stroke="#b0601e" stroke-width="1.1"/>
<circle cx="317.56" cy="337.9" r="2.7" fill="none" stroke="#b0601e" stroke-width="1.1"/>
<circle cx="324.85" cy="333.3" r="2.7" fill="none" stroke="#b0601e" stroke-width="1.1"/>
<circle cx="332.13" cy="316.92" r="2.7" fill="none" stroke="#b0601e" stroke-width="1.1"/>
<circle cx="339.42" cy="327.9" r="2.7" fill="none" stroke="#b0601e" stroke-width="1.1"/>
<circle cx="346.7" cy="346.9" r="2.7" fill="none" stroke="#b0601e" stroke-width="1.1"/>
<circle cx="357.63" cy="302.76" r="2.7" fill="none" stroke="#b0601e" stroke-width="1.1"/>
<path d="M55.3 399.5 L62.58 412.5 L69.87 388.6 L77.16 390 L84.44 392.6 L91.72 395.7 L99.01 396.5 L106.3 393.5 L113.58 392.3 L120.86 392.6 L128.15 391.6 L135.44 390.8 L142.72 389.4 L150 389.9 L157.29 391.2 L164.57 396.4 L171.86 397.5 L179.14 402.7 L186.43 402.9 L193.71 402.5 L201 407.4 L208.29 409.5 L215.57 411 L222.86 415 L230.14 422.6 L237.43 440 L244.71 443.6 L252 431.4 L259.28 467.4 L266.56 448.1 L273.85 480.29 L281.13 462.4 L288.42 486.05 L295.7 503.76 L302.99 452.2 L310.27 471.1 L317.56 499.33 L324.85 475.3 L332.13 527.22 L339.42 607.35 L346.7 554.67 L357.63 492.69" fill="none" stroke="#3c9a2e" stroke-width="1.1" stroke-dasharray="3,2"/>
<path d="M201 404.28V410.64" stroke="#3c9a2e" stroke-width="1" fill="none" stroke-dasharray="3,2"/>
<path d="M199.5 404.28H202.5 M199.5 410.64H202.5" stroke="#3c9a2e" stroke-width="1" fill="none"/>
<path d="M208.29 406.06V413.08" stroke="#3c9a2e" stroke-width="1" fill="none" stroke-dasharray="3,2"/>
<path d="M206.79 406.06H209.79 M206.79 413.08H209.79" stroke="#3c9a2e" stroke-width="1" fill="none"/>
<path d="M215.57 407.2V414.97" stroke="#3c9a2e" stroke-width="1" fill="none" stroke-dasharray="3,2"/>
<path d="M214.07 407.2H217.07 M214.07 414.97H217.07" stroke="#3c9a2e" stroke-width="1" fill="none"/>
<path d="M222.86 410.81V419.4" stroke="#3c9a2e" stroke-width="1" fill="none" stroke-dasharray="3,2"/>
<path d="M221.36 410.81H224.36 M221.36 419.4H224.36" stroke="#3c9a2e" stroke-width="1" fill="none"/>
<path d="M230.14 417.99V427.47" stroke="#3c9a2e" stroke-width="1" fill="none" stroke-dasharray="3,2"/>
<path d="M228.64 417.99H231.64 M228.64 427.47H231.64" stroke="#3c9a2e" stroke-width="1" fill="none"/>
<path d="M237.43 434.91V445.4" stroke="#3c9a2e" stroke-width="1" fill="none" stroke-dasharray="3,2"/>
<path d="M235.93 434.91H238.93 M235.93 445.4H238.93" stroke="#3c9a2e" stroke-width="1" fill="none"/>
<path d="M244.71 438V449.59" stroke="#3c9a2e" stroke-width="1" fill="none" stroke-dasharray="3,2"/>
<path d="M243.21 438H246.21 M243.21 449.59H246.21" stroke="#3c9a2e" stroke-width="1" fill="none"/>
<path d="M252 425.23V438.04" stroke="#3c9a2e" stroke-width="1" fill="none" stroke-dasharray="3,2"/>
<path d="M250.5 425.23H253.5 M250.5 438.04H253.5" stroke="#3c9a2e" stroke-width="1" fill="none"/>
<path d="M259.28 460.6V474.77" stroke="#3c9a2e" stroke-width="1" fill="none" stroke-dasharray="3,2"/>
<path d="M257.78 460.6H260.78 M257.78 474.77H260.78" stroke="#3c9a2e" stroke-width="1" fill="none"/>
<path d="M266.56 440.62V456.29" stroke="#3c9a2e" stroke-width="1" fill="none" stroke-dasharray="3,2"/>
<path d="M265.06 440.62H268.06 M265.06 456.29H268.06" stroke="#3c9a2e" stroke-width="1" fill="none"/>
<path d="M281.13 453.34V472.51" stroke="#3c9a2e" stroke-width="1" fill="none" stroke-dasharray="3,2"/>
<path d="M279.63 453.34H282.63 M279.63 472.51H282.63" stroke="#3c9a2e" stroke-width="1" fill="none"/>
<path d="M302.99 440.18V466.14" stroke="#3c9a2e" stroke-width="1" fill="none" stroke-dasharray="3,2"/>
<path d="M301.49 440.18H304.49 M301.49 466.14H304.49" stroke="#3c9a2e" stroke-width="1" fill="none"/>
<path d="M310.27 457.91V486.64" stroke="#3c9a2e" stroke-width="1" fill="none" stroke-dasharray="3,2"/>
<path d="M308.77 457.91H311.77 M308.77 486.64H311.77" stroke="#3c9a2e" stroke-width="1" fill="none"/>
<path d="M324.85 459.44V494.69" stroke="#3c9a2e" stroke-width="1" fill="none" stroke-dasharray="3,2"/>
<path d="M323.35 459.44H326.35 M323.35 494.69H326.35" stroke="#3c9a2e" stroke-width="1" fill="none"/>
<rect x="52.85" y="397.05" width="4.9" height="4.9" fill="none" stroke="#3c9a2e" stroke-width="1.1"/>
<rect x="60.13" y="410.05" width="4.9" height="4.9" fill="none" stroke="#3c9a2e" stroke-width="1.1"/>
<rect x="67.42" y="386.15" width="4.9" height="4.9" fill="none" stroke="#3c9a2e" stroke-width="1.1"/>
<rect x="74.7" y="387.55" width="4.9" height="4.9" fill="none" stroke="#3c9a2e" stroke-width="1.1"/>
<rect x="81.99" y="390.15" width="4.9" height="4.9" fill="none" stroke="#3c9a2e" stroke-width="1.1"/>
<rect x="89.27" y="393.25" width="4.9" height="4.9" fill="none" stroke="#3c9a2e" stroke-width="1.1"/>
<rect x="96.56" y="394.05" width="4.9" height="4.9" fill="none" stroke="#3c9a2e" stroke-width="1.1"/>
<rect x="103.84" y="391.05" width="4.9" height="4.9" fill="none" stroke="#3c9a2e" stroke-width="1.1"/>
<rect x="111.13" y="389.85" width="4.9" height="4.9" fill="none" stroke="#3c9a2e" stroke-width="1.1"/>
<rect x="118.41" y="390.15" width="4.9" height="4.9" fill="none" stroke="#3c9a2e" stroke-width="1.1"/>
<rect x="125.7" y="389.15" width="4.9" height="4.9" fill="none" stroke="#3c9a2e" stroke-width="1.1"/>
<rect x="132.99" y="388.35" width="4.9" height="4.9" fill="none" stroke="#3c9a2e" stroke-width="1.1"/>
<rect x="140.27" y="386.95" width="4.9" height="4.9" fill="none" stroke="#3c9a2e" stroke-width="1.1"/>
<rect x="147.56" y="387.45" width="4.9" height="4.9" fill="none" stroke="#3c9a2e" stroke-width="1.1"/>
<rect x="154.84" y="388.75" width="4.9" height="4.9" fill="none" stroke="#3c9a2e" stroke-width="1.1"/>
<rect x="162.12" y="393.95" width="4.9" height="4.9" fill="none" stroke="#3c9a2e" stroke-width="1.1"/>
<rect x="169.41" y="395.05" width="4.9" height="4.9" fill="none" stroke="#3c9a2e" stroke-width="1.1"/>
<rect x="176.69" y="400.25" width="4.9" height="4.9" fill="none" stroke="#3c9a2e" stroke-width="1.1"/>
<rect x="183.98" y="400.45" width="4.9" height="4.9" fill="none" stroke="#3c9a2e" stroke-width="1.1"/>
<rect x="191.26" y="400.05" width="4.9" height="4.9" fill="none" stroke="#3c9a2e" stroke-width="1.1"/>
<rect x="198.55" y="404.95" width="4.9" height="4.9" fill="none" stroke="#3c9a2e" stroke-width="1.1"/>
<rect x="205.84" y="407.05" width="4.9" height="4.9" fill="none" stroke="#3c9a2e" stroke-width="1.1"/>
<rect x="213.12" y="408.55" width="4.9" height="4.9" fill="none" stroke="#3c9a2e" stroke-width="1.1"/>
<rect x="220.41" y="412.55" width="4.9" height="4.9" fill="none" stroke="#3c9a2e" stroke-width="1.1"/>
<rect x="227.69" y="420.15" width="4.9" height="4.9" fill="none" stroke="#3c9a2e" stroke-width="1.1"/>
<rect x="234.98" y="437.55" width="4.9" height="4.9" fill="none" stroke="#3c9a2e" stroke-width="1.1"/>
<rect x="242.26" y="441.15" width="4.9" height="4.9" fill="none" stroke="#3c9a2e" stroke-width="1.1"/>
<rect x="249.55" y="428.95" width="4.9" height="4.9" fill="none" stroke="#3c9a2e" stroke-width="1.1"/>
<rect x="256.83" y="464.95" width="4.9" height="4.9" fill="none" stroke="#3c9a2e" stroke-width="1.1"/>
<rect x="264.12" y="445.65" width="4.9" height="4.9" fill="none" stroke="#3c9a2e" stroke-width="1.1"/>
<rect x="271.4" y="477.84" width="4.9" height="4.9" fill="none" stroke="#3c9a2e" stroke-width="1.1"/>
<rect x="278.69" y="459.95" width="4.9" height="4.9" fill="none" stroke="#3c9a2e" stroke-width="1.1"/>
<rect x="285.97" y="483.6" width="4.9" height="4.9" fill="none" stroke="#3c9a2e" stroke-width="1.1"/>
<rect x="293.25" y="501.31" width="4.9" height="4.9" fill="none" stroke="#3c9a2e" stroke-width="1.1"/>
<rect x="300.54" y="449.75" width="4.9" height="4.9" fill="none" stroke="#3c9a2e" stroke-width="1.1"/>
<rect x="307.82" y="468.65" width="4.9" height="4.9" fill="none" stroke="#3c9a2e" stroke-width="1.1"/>
<rect x="315.11" y="496.88" width="4.9" height="4.9" fill="none" stroke="#3c9a2e" stroke-width="1.1"/>
<rect x="322.4" y="472.85" width="4.9" height="4.9" fill="none" stroke="#3c9a2e" stroke-width="1.1"/>
<rect x="329.68" y="524.77" width="4.9" height="4.9" fill="none" stroke="#3c9a2e" stroke-width="1.1"/>
<rect x="336.97" y="604.9" width="4.9" height="4.9" fill="none" stroke="#3c9a2e" stroke-width="1.1"/>
<rect x="344.25" y="552.22" width="4.9" height="4.9" fill="none" stroke="#3c9a2e" stroke-width="1.1"/>
<rect x="355.18" y="490.24" width="4.9" height="4.9" fill="none" stroke="#3c9a2e" stroke-width="1.1"/>
<path d="M55.3 402.5 L62.58 424.5 L69.87 397.8 L77.16 386.8 L84.44 383.8 L91.72 382.5 L99.01 387.2 L106.3 393 L113.58 395.3 L120.86 399.3 L128.15 402.3 L135.44 402.3 L142.72 400.3 L150 401 L157.29 403.2 L164.57 398.6 L171.86 400.4 L179.14 406.6 L186.43 411.6 L193.71 401.5 L201 395.2 L208.29 406.2 L215.57 400.7 L222.86 398.7 L230.14 412.8 L237.43 413.2 L244.71 417.6 L252 412.5 L259.28 428.8 L266.56 434.9 L273.85 429.4 L281.13 433.2 L288.42 430.8 L295.7 443.2 L302.99 431.4 L310.27 432.1 L317.56 424.1 L324.85 447.7 L332.13 432.1 L339.42 459.5 L346.7 424.1 L357.63 482" fill="none" stroke="#0000ff" stroke-width="1.2"/>
<path d="M201 393.26V397.19" stroke="#0000ff" stroke-width="1" fill="none"/>
<path d="M199.5 393.26H202.5 M199.5 397.19H202.5" stroke="#0000ff" stroke-width="1" fill="none"/>
<path d="M208.29 403.98V408.47" stroke="#0000ff" stroke-width="1" fill="none"/>
<path d="M206.79 403.98H209.79 M206.79 408.47H209.79" stroke="#0000ff" stroke-width="1" fill="none"/>
<path d="M215.57 398.17V403.3" stroke="#0000ff" stroke-width="1" fill="none"/>
<path d="M214.07 398.17H217.07 M214.07 403.3H217.07" stroke="#0000ff" stroke-width="1" fill="none"/>
<path d="M222.86 395.82V401.68" stroke="#0000ff" stroke-width="1" fill="none"/>
<path d="M221.36 395.82H224.36 M221.36 401.68H224.36" stroke="#0000ff" stroke-width="1" fill="none"/>
<path d="M230.14 409.52V416.21" stroke="#0000ff" stroke-width="1" fill="none"/>
<path d="M228.64 409.52H231.64 M228.64 416.21H231.64" stroke="#0000ff" stroke-width="1" fill="none"/>
<path d="M237.43 409.46V417.11" stroke="#0000ff" stroke-width="1" fill="none"/>
<path d="M235.93 409.46H238.93 M235.93 417.11H238.93" stroke="#0000ff" stroke-width="1" fill="none"/>
<path d="M244.71 413.34V422.08" stroke="#0000ff" stroke-width="1" fill="none"/>
<path d="M243.21 413.34H246.21 M243.21 422.08H246.21" stroke="#0000ff" stroke-width="1" fill="none"/>
<path d="M252 407.65V417.63" stroke="#0000ff" stroke-width="1" fill="none"/>
<path d="M250.5 407.65H253.5 M250.5 417.63H253.5" stroke="#0000ff" stroke-width="1" fill="none"/>
<path d="M259.28 423.28V434.69" stroke="#0000ff" stroke-width="1" fill="none"/>
<path d="M257.78 423.28H260.78 M257.78 434.69H260.78" stroke="#0000ff" stroke-width="1" fill="none"/>
<path d="M266.56 428.63V441.66" stroke="#0000ff" stroke-width="1" fill="none"/>
<path d="M265.06 428.63H268.06 M265.06 441.66H268.06" stroke="#0000ff" stroke-width="1" fill="none"/>
<path d="M273.85 422.27V437.17" stroke="#0000ff" stroke-width="1" fill="none"/>
<path d="M272.35 422.27H275.35 M272.35 437.17H275.35" stroke="#0000ff" stroke-width="1" fill="none"/>
<path d="M281.13 425.1V442.13" stroke="#0000ff" stroke-width="1" fill="none"/>
<path d="M279.63 425.1H282.63 M279.63 442.13H282.63" stroke="#0000ff" stroke-width="1" fill="none"/>
<path d="M288.42 421.61V441.08" stroke="#0000ff" stroke-width="1" fill="none"/>
<path d="M286.92 421.61H289.92 M286.92 441.08H289.92" stroke="#0000ff" stroke-width="1" fill="none"/>
<path d="M295.7 432.77V455.04" stroke="#0000ff" stroke-width="1" fill="none"/>
<path d="M294.2 432.77H297.2 M294.2 455.04H297.2" stroke="#0000ff" stroke-width="1" fill="none"/>
<path d="M302.99 419.59V445.06" stroke="#0000ff" stroke-width="1" fill="none"/>
<path d="M301.49 419.59H304.49 M301.49 445.06H304.49" stroke="#0000ff" stroke-width="1" fill="none"/>
<path d="M310.27 418.73V447.89" stroke="#0000ff" stroke-width="1" fill="none"/>
<path d="M308.77 418.73H311.77 M308.77 447.89H311.77" stroke="#0000ff" stroke-width="1" fill="none"/>
<path d="M317.56 408.98V442.39" stroke="#0000ff" stroke-width="1" fill="none"/>
<path d="M316.06 408.98H319.06 M316.06 442.39H319.06" stroke="#0000ff" stroke-width="1" fill="none"/>
<path d="M324.85 430.63V468.94" stroke="#0000ff" stroke-width="1" fill="none"/>
<path d="M323.35 430.63H326.35 M323.35 468.94H326.35" stroke="#0000ff" stroke-width="1" fill="none"/>
<path d="M332.13 412.85V456.83" stroke="#0000ff" stroke-width="1" fill="none"/>
<path d="M330.63 412.85H333.63 M330.63 456.83H333.63" stroke="#0000ff" stroke-width="1" fill="none"/>
<path d="M339.42 439.33V485.78" stroke="#0000ff" stroke-width="1" fill="none"/>
<path d="M337.92 439.33H340.92 M337.92 485.78H340.92" stroke="#0000ff" stroke-width="1" fill="none"/>
<path d="M346.7 403.24V451.57" stroke="#0000ff" stroke-width="1" fill="none"/>
<path d="M345.2 403.24H348.2 M345.2 451.57H348.2" stroke="#0000ff" stroke-width="1" fill="none"/>
<path d="M55.3 399.3L58.3 404.9L52.3 404.9Z" fill="#0000ff"/>
<path d="M62.58 421.3L65.58 426.9L59.58 426.9Z" fill="#0000ff"/>
<path d="M69.87 394.6L72.87 400.2L66.87 400.2Z" fill="#0000ff"/>
<path d="M77.16 383.6L80.16 389.2L74.16 389.2Z" fill="#0000ff"/>
<path d="M84.44 380.6L87.44 386.2L81.44 386.2Z" fill="#0000ff"/>
<path d="M91.72 379.3L94.72 384.9L88.72 384.9Z" fill="#0000ff"/>
<path d="M99.01 384L102.01 389.6L96.01 389.6Z" fill="#0000ff"/>
<path d="M106.3 389.8L109.3 395.4L103.3 395.4Z" fill="#0000ff"/>
<path d="M113.58 392.1L116.58 397.7L110.58 397.7Z" fill="#0000ff"/>
<path d="M120.86 396.1L123.86 401.7L117.86 401.7Z" fill="#0000ff"/>
<path d="M128.15 399.1L131.15 404.7L125.15 404.7Z" fill="#0000ff"/>
<path d="M135.44 399.1L138.44 404.7L132.44 404.7Z" fill="#0000ff"/>
<path d="M142.72 397.1L145.72 402.7L139.72 402.7Z" fill="#0000ff"/>
<path d="M150 397.8L153 403.4L147 403.4Z" fill="#0000ff"/>
<path d="M157.29 400L160.29 405.6L154.29 405.6Z" fill="#0000ff"/>
<path d="M164.57 395.4L167.57 401L161.57 401Z" fill="#0000ff"/>
<path d="M171.86 397.2L174.86 402.8L168.86 402.8Z" fill="#0000ff"/>
<path d="M179.14 403.4L182.14 409L176.14 409Z" fill="#0000ff"/>
<path d="M186.43 408.4L189.43 414L183.43 414Z" fill="#0000ff"/>
<path d="M193.71 398.3L196.71 403.9L190.71 403.9Z" fill="#0000ff"/>
<path d="M201 392L204 397.6L198 397.6Z" fill="#0000ff"/>
<path d="M208.29 403L211.29 408.6L205.29 408.6Z" fill="#0000ff"/>
<path d="M215.57 397.5L218.57 403.1L212.57 403.1Z" fill="#0000ff"/>
<path d="M222.86 395.5L225.86 401.1L219.86 401.1Z" fill="#0000ff"/>
<path d="M230.14 409.6L233.14 415.2L227.14 415.2Z" fill="#0000ff"/>
<path d="M237.43 410L240.43 415.6L234.43 415.6Z" fill="#0000ff"/>
<path d="M244.71 414.4L247.71 420L241.71 420Z" fill="#0000ff"/>
<path d="M252 409.3L255 414.9L249 414.9Z" fill="#0000ff"/>
<path d="M259.28 425.6L262.28 431.2L256.28 431.2Z" fill="#0000ff"/>
<path d="M266.56 431.7L269.56 437.3L263.56 437.3Z" fill="#0000ff"/>
<path d="M273.85 426.2L276.85 431.8L270.85 431.8Z" fill="#0000ff"/>
<path d="M281.13 430L284.13 435.6L278.13 435.6Z" fill="#0000ff"/>
<path d="M288.42 427.6L291.42 433.2L285.42 433.2Z" fill="#0000ff"/>
<path d="M295.7 440L298.7 445.6L292.7 445.6Z" fill="#0000ff"/>
<path d="M302.99 428.2L305.99 433.8L299.99 433.8Z" fill="#0000ff"/>
<path d="M310.27 428.9L313.27 434.5L307.27 434.5Z" fill="#0000ff"/>
<path d="M317.56 420.9L320.56 426.5L314.56 426.5Z" fill="#0000ff"/>
<path d="M324.85 444.5L327.85 450.1L321.85 450.1Z" fill="#0000ff"/>
<path d="M332.13 428.9L335.13 434.5L329.13 434.5Z" fill="#0000ff"/>
<path d="M339.42 456.3L342.42 461.9L336.42 461.9Z" fill="#0000ff"/>
<path d="M346.7 420.9L349.7 426.5L343.7 426.5Z" fill="#0000ff"/>
<path d="M357.63 478.8L360.63 484.4L354.63 484.4Z" fill="#0000ff"/>
<path d="M55.3 640.12 L62.58 498.44 L69.87 428.3 L77.16 394.7 L84.44 369.8 L91.72 351 L99.01 338.4 L106.3 332.9 L113.58 333.7 L120.86 338.4 L128.15 350.6 L135.44 365.4 L142.72 382.6 L150 401.7 L157.29 415.4 L164.57 437.7 L171.86 451 L179.14 474 L186.43 481.62 L193.71 486.93 L201 498.89 L208.29 494.9 L215.57 499.77 L222.86 501.54 L230.14 504.64 L237.43 518.37 L244.71 509.95 L252 515.71 L259.28 511.72 L266.56 519.69 L273.85 539.62 L281.13 491.8 L288.42 511.72 L295.7 465.9 L302.99 530.76 L310.27 430.8 L317.56 455.5 L324.85 421.6 L332.13 480.73 L339.42 511.28 L346.7 554.67 L357.63 492.69" fill="none" stroke="#ff0000" stroke-width="1.1" stroke-dasharray="1.2,1.2"/>
<path d="M295.7 452.23V545.9" stroke="#ff0000" stroke-width="1" fill="none" stroke-dasharray="1.2,1.2"/>
<path d="M294.2 452.23H297.2 M294.2 545.9H297.2" stroke="#ff0000" stroke-width="1" fill="none"/>
<path d="M310.27 416.35V510.8" stroke="#ff0000" stroke-width="1" fill="none" stroke-dasharray="1.2,1.2"/>
<path d="M308.77 416.35H311.77 M308.77 510.8H311.77" stroke="#ff0000" stroke-width="1" fill="none"/>
<path d="M317.56 440.65V535.5" stroke="#ff0000" stroke-width="1" fill="none" stroke-dasharray="1.2,1.2"/>
<path d="M316.06 440.65H319.06 M316.06 535.5H319.06" stroke="#ff0000" stroke-width="1" fill="none"/>
<path d="M324.85 406.33V501.6" stroke="#ff0000" stroke-width="1" fill="none" stroke-dasharray="1.2,1.2"/>
<path d="M323.35 406.33H326.35 M323.35 501.6H326.35" stroke="#ff0000" stroke-width="1" fill="none"/>
<path d="M55.3 636.82L57.6 640.12L55.3 643.42L53 640.12Z" fill="#ff0000"/>
<path d="M62.58 495.14L64.88 498.44L62.58 501.74L60.28 498.44Z" fill="#ff0000"/>
<path d="M69.87 425L72.17 428.3L69.87 431.6L67.57 428.3Z" fill="#ff0000"/>
<path d="M77.16 391.4L79.45 394.7L77.16 398L74.86 394.7Z" fill="#ff0000"/>
<path d="M84.44 366.5L86.74 369.8L84.44 373.1L82.14 369.8Z" fill="#ff0000"/>
<path d="M91.72 347.7L94.02 351L91.72 354.3L89.42 351Z" fill="#ff0000"/>
<path d="M99.01 335.1L101.31 338.4L99.01 341.7L96.71 338.4Z" fill="#ff0000"/>
<path d="M106.3 329.6L108.59 332.9L106.3 336.2L104 332.9Z" fill="#ff0000"/>
<path d="M113.58 330.4L115.88 333.7L113.58 337L111.28 333.7Z" fill="#ff0000"/>
<path d="M120.86 335.1L123.16 338.4L120.86 341.7L118.56 338.4Z" fill="#ff0000"/>
<path d="M128.15 347.3L130.45 350.6L128.15 353.9L125.85 350.6Z" fill="#ff0000"/>
<path d="M135.44 362.1L137.74 365.4L135.44 368.7L133.13 365.4Z" fill="#ff0000"/>
<path d="M142.72 379.3L145.02 382.6L142.72 385.9L140.42 382.6Z" fill="#ff0000"/>
<path d="M150 398.4L152.31 401.7L150 405L147.7 401.7Z" fill="#ff0000"/>
<path d="M157.29 412.1L159.59 415.4L157.29 418.7L154.99 415.4Z" fill="#ff0000"/>
<path d="M164.57 434.4L166.88 437.7L164.57 441L162.27 437.7Z" fill="#ff0000"/>
<path d="M171.86 447.7L174.16 451L171.86 454.3L169.56 451Z" fill="#ff0000"/>
<path d="M179.14 470.7L181.44 474L179.14 477.3L176.84 474Z" fill="#ff0000"/>
<path d="M186.43 478.32L188.73 481.62L186.43 484.92L184.13 481.62Z" fill="#ff0000"/>
<path d="M193.71 483.63L196.01 486.93L193.71 490.23L191.41 486.93Z" fill="#ff0000"/>
<path d="M201 495.59L203.3 498.89L201 502.19L198.7 498.89Z" fill="#ff0000"/>
<path d="M208.29 491.6L210.59 494.9L208.29 498.2L205.99 494.9Z" fill="#ff0000"/>
<path d="M215.57 496.47L217.87 499.77L215.57 503.07L213.27 499.77Z" fill="#ff0000"/>
<path d="M222.86 498.24L225.16 501.54L222.86 504.84L220.56 501.54Z" fill="#ff0000"/>
<path d="M230.14 501.34L232.44 504.64L230.14 507.94L227.84 504.64Z" fill="#ff0000"/>
<path d="M237.43 515.07L239.73 518.37L237.43 521.67L235.12 518.37Z" fill="#ff0000"/>
<path d="M244.71 506.65L247.01 509.95L244.71 513.25L242.41 509.95Z" fill="#ff0000"/>
<path d="M252 512.41L254.3 515.71L252 519.01L249.69 515.71Z" fill="#ff0000"/>
<path d="M259.28 508.42L261.58 511.72L259.28 515.02L256.98 511.72Z" fill="#ff0000"/>
<path d="M266.56 516.39L268.87 519.69L266.56 522.99L264.26 519.69Z" fill="#ff0000"/>
<path d="M273.85 536.32L276.15 539.62L273.85 542.92L271.55 539.62Z" fill="#ff0000"/>
<path d="M281.13 488.5L283.44 491.8L281.13 495.1L278.83 491.8Z" fill="#ff0000"/>
<path d="M288.42 508.42L290.72 511.72L288.42 515.02L286.12 511.72Z" fill="#ff0000"/>
<path d="M295.7 462.6L298 465.9L295.7 469.2L293.4 465.9Z" fill="#ff0000"/>
<path d="M302.99 527.46L305.29 530.76L302.99 534.06L300.69 530.76Z" fill="#ff0000"/>
<path d="M310.27 427.5L312.57 430.8L310.27 434.1L307.97 430.8Z" fill="#ff0000"/>
<path d="M317.56 452.2L319.86 455.5L317.56 458.8L315.26 455.5Z" fill="#ff0000"/>
<path d="M324.85 418.3L327.15 421.6L324.85 424.9L322.55 421.6Z" fill="#ff0000"/>
<path d="M332.13 477.43L334.43 480.73L332.13 484.03L329.83 480.73Z" fill="#ff0000"/>
<path d="M339.42 507.98L341.72 511.28L339.42 514.58L337.12 511.28Z" fill="#ff0000"/>
<path d="M346.7 551.37L349 554.67L346.7 557.97L344.4 554.67Z" fill="#ff0000"/>
<path d="M357.63 489.39L359.93 492.69L357.63 495.99L355.33 492.69Z" fill="#ff0000"/>
</g>
<path d="M45.6 312.5H51.3 M371.3 312.5H365.6 M45.6 306.5H51.3 M371.3 306.5H365.6 M45.6 302.5H51.3 M371.3 302.5H365.6 M45.6 298.5H51.3 M371.3 298.5H365.6 M45.6 295.5H51.3 M371.3 295.5H365.6 M45.6 292.5H51.3 M371.3 292.5H365.6 M45.6 290.5H51.3 M371.3 290.5H365.6 M45.6 288.5H56.6 M371.3 288.5H360.3 M45.6 274.5H51.3 M371.3 274.5H365.6 M45.6 266.5H51.3 M371.3 266.5H365.6 M45.6 261.5H51.3 M371.3 261.5H365.6 M45.6 256.5H51.3 M371.3 256.5H365.6 M45.6 253.5H51.3 M371.3 253.5H365.6 M45.6 250.5H51.3 M371.3 250.5H365.6 M45.6 247.5H51.3 M371.3 247.5H365.6 M45.6 245.5H51.3 M371.3 245.5H365.6 M45.6 243.5H56.6 M371.3 243.5H360.3 M45.6 229.5H51.3 M371.3 229.5H365.6 M45.6 221.5H51.3 M371.3 221.5H365.6 M45.6 215.5H51.3 M371.3 215.5H365.6 M45.6 211.5H51.3 M371.3 211.5H365.6 M45.6 207.5H51.3 M371.3 207.5H365.6 M45.6 204.5H51.3 M371.3 204.5H365.6 M45.6 201.5H51.3 M371.3 201.5H365.6 M45.6 199.5H51.3 M371.3 199.5H365.6 M45.6 197.5H56.6 M371.3 197.5H360.3 M45.6 183.5H51.3 M371.3 183.5H365.6 M45.6 175.5H51.3 M371.3 175.5H365.6 M45.6 170.5H51.3 M371.3 170.5H365.6 M45.6 165.5H51.3 M371.3 165.5H365.6 M45.6 162.5H51.3 M371.3 162.5H365.6 M45.6 159.5H51.3 M371.3 159.5H365.6 M45.6 156.5H51.3 M371.3 156.5H365.6 M45.6 154.5H51.3 M371.3 154.5H365.6 M45.6 152.5H56.6 M371.3 152.5H360.3 M45.6 138.5H51.3 M371.3 138.5H365.6 M45.6 130.5H51.3 M371.3 130.5H365.6 M45.6 124.5H51.3 M371.3 124.5H365.6 M45.6 120.5H51.3 M371.3 120.5H365.6 M45.6 116.5H51.3 M371.3 116.5H365.6 M45.6 113.5H51.3 M371.3 113.5H365.6 M45.6 111.5H51.3 M371.3 111.5H365.6 M45.6 108.5H51.3 M371.3 108.5H365.6 M45.6 106.5H56.6 M371.3 106.5H360.3 M45.6 93.5H51.3 M371.3 93.5H365.6 M45.6 85.5H51.3 M371.3 85.5H365.6 M45.6 79.5H51.3 M371.3 79.5H365.6 M45.6 75.5H51.3 M371.3 75.5H365.6 M45.6 71.5H51.3 M371.3 71.5H365.6 M45.6 68.5H51.3 M371.3 68.5H365.6 M45.6 65.5H51.3 M371.3 65.5H365.6 M45.6 63.5H51.3 M371.3 63.5H365.6 M45.6 61.5H56.6 M371.3 61.5H360.3 M45.6 47.5H51.3 M371.3 47.5H365.6 M45.6 39.5H51.3 M371.3 39.5H365.6 M45.6 34.5H51.3 M371.3 34.5H365.6 M45.6 29.5H51.3 M371.3 29.5H365.6 M45.6 26.5H51.3 M371.3 26.5H365.6 M45.6 23.5H51.3 M371.3 23.5H365.6 M45.6 20.5H51.3 M371.3 20.5H365.6 M45.6 18.5H51.3 M371.3 18.5H365.6 M48.02 17.6V19.6 M48.02 317.5V315.5 M48.02 317.5V318.8 M48.02 478.1V476.8 M55.3 17.6V25.6 M55.3 317.5V309.5 M55.3 317.5V322.5 M55.3 478.1V473.1 M62.58 17.6V19.6 M62.58 317.5V315.5 M62.58 317.5V318.8 M62.58 478.1V476.8 M69.87 17.6V21.6 M69.87 317.5V313.5 M69.87 317.5V320 M69.87 478.1V475.6 M77.16 17.6V19.6 M77.16 317.5V315.5 M77.16 317.5V318.8 M77.16 478.1V476.8 M84.44 17.6V21.6 M84.44 317.5V313.5 M84.44 317.5V320 M84.44 478.1V475.6 M91.72 17.6V19.6 M91.72 317.5V315.5 M91.72 317.5V318.8 M91.72 478.1V476.8 M99.01 17.6V21.6 M99.01 317.5V313.5 M99.01 317.5V320 M99.01 478.1V475.6 M106.3 17.6V19.6 M106.3 317.5V315.5 M106.3 317.5V318.8 M106.3 478.1V476.8 M113.58 17.6V21.6 M113.58 317.5V313.5 M113.58 317.5V320 M113.58 478.1V475.6 M120.86 17.6V19.6 M120.86 317.5V315.5 M120.86 317.5V318.8 M120.86 478.1V476.8 M128.15 17.6V25.6 M128.15 317.5V309.5 M128.15 317.5V322.5 M128.15 478.1V473.1 M135.44 17.6V19.6 M135.44 317.5V315.5 M135.44 317.5V318.8 M135.44 478.1V476.8 M142.72 17.6V21.6 M142.72 317.5V313.5 M142.72 317.5V320 M142.72 478.1V475.6 M150 17.6V19.6 M150 317.5V315.5 M150 317.5V318.8 M150 478.1V476.8 M157.29 17.6V21.6 M157.29 317.5V313.5 M157.29 317.5V320 M157.29 478.1V475.6 M164.57 17.6V19.6 M164.57 317.5V315.5 M164.57 317.5V318.8 M164.57 478.1V476.8 M171.86 17.6V21.6 M171.86 317.5V313.5 M171.86 317.5V320 M171.86 478.1V475.6 M179.14 17.6V19.6 M179.14 317.5V315.5 M179.14 317.5V318.8 M179.14 478.1V476.8 M186.43 17.6V21.6 M186.43 317.5V313.5 M186.43 317.5V320 M186.43 478.1V475.6 M193.71 17.6V19.6 M193.71 317.5V315.5 M193.71 317.5V318.8 M193.71 478.1V476.8 M201 17.6V25.6 M201 317.5V309.5 M201 317.5V322.5 M201 478.1V473.1 M208.29 17.6V19.6 M208.29 317.5V315.5 M208.29 317.5V318.8 M208.29 478.1V476.8 M215.57 17.6V21.6 M215.57 317.5V313.5 M215.57 317.5V320 M215.57 478.1V475.6 M222.86 17.6V19.6 M222.86 317.5V315.5 M222.86 317.5V318.8 M222.86 478.1V476.8 M230.14 17.6V21.6 M230.14 317.5V313.5 M230.14 317.5V320 M230.14 478.1V475.6 M237.43 17.6V19.6 M237.43 317.5V315.5 M237.43 317.5V318.8 M237.43 478.1V476.8 M244.71 17.6V21.6 M244.71 317.5V313.5 M244.71 317.5V320 M244.71 478.1V475.6 M252 17.6V19.6 M252 317.5V315.5 M252 317.5V318.8 M252 478.1V476.8 M259.28 17.6V21.6 M259.28 317.5V313.5 M259.28 317.5V320 M259.28 478.1V475.6 M266.56 17.6V19.6 M266.56 317.5V315.5 M266.56 317.5V318.8 M266.56 478.1V476.8 M273.85 17.6V25.6 M273.85 317.5V309.5 M273.85 317.5V322.5 M273.85 478.1V473.1 M281.13 17.6V19.6 M281.13 317.5V315.5 M281.13 317.5V318.8 M281.13 478.1V476.8 M288.42 17.6V21.6 M288.42 317.5V313.5 M288.42 317.5V320 M288.42 478.1V475.6 M295.7 17.6V19.6 M295.7 317.5V315.5 M295.7 317.5V318.8 M295.7 478.1V476.8 M302.99 17.6V21.6 M302.99 317.5V313.5 M302.99 317.5V320 M302.99 478.1V475.6 M310.27 17.6V19.6 M310.27 317.5V315.5 M310.27 317.5V318.8 M310.27 478.1V476.8 M317.56 17.6V21.6 M317.56 317.5V313.5 M317.56 317.5V320 M317.56 478.1V475.6 M324.85 17.6V19.6 M324.85 317.5V315.5 M324.85 317.5V318.8 M324.85 478.1V476.8 M332.13 17.6V21.6 M332.13 317.5V313.5 M332.13 317.5V320 M332.13 478.1V475.6 M339.42 17.6V19.6 M339.42 317.5V315.5 M339.42 317.5V318.8 M339.42 478.1V476.8 M346.7 17.6V25.6 M346.7 317.5V309.5 M346.7 317.5V322.5 M346.7 478.1V473.1 M353.99 17.6V19.6 M353.99 317.5V315.5 M353.99 317.5V318.8 M353.99 478.1V476.8 M361.27 17.6V21.6 M361.27 317.5V313.5 M361.27 317.5V320 M361.27 478.1V475.6 M368.56 17.6V19.6 M368.56 317.5V315.5 M368.56 317.5V318.8 M368.56 478.1V476.8 M45.6 477.5H50.6 M371.3 477.5H366.3 M45.6 458.5H52.6 M371.3 458.5H364.3 M45.6 442.5H50.6 M371.3 442.5H366.3 M45.6 428.5H50.6 M371.3 428.5H366.3 M45.6 416.5H50.6 M371.3 416.5H366.3 M45.6 406.5H50.6 M371.3 406.5H366.3 M45.6 397.5H52.6 M371.3 397.5H364.3 M45.6 389.5H50.6 M371.3 389.5H366.3 M45.6 381.5H50.6 M371.3 381.5H366.3 M45.6 374.5H50.6 M371.3 374.5H366.3 M45.6 368.5H50.6 M371.3 368.5H366.3 M45.6 362.5H52.6 M371.3 362.5H364.3 M45.6 356.5H50.6 M371.3 356.5H366.3 M45.6 351.5H50.6 M371.3 351.5H366.3 M45.6 346.5H50.6 M371.3 346.5H366.3 M45.6 341.5H50.6 M371.3 341.5H366.3 M45.6 336.5H52.6 M371.3 336.5H364.3 M45.6 332.5H50.6 M371.3 332.5H366.3 M45.6 328.5H50.6 M371.3 328.5H366.3 M45.6 324.5H50.6 M371.3 324.5H366.3 M45.6 321.5H50.6 M371.3 321.5H366.3 M45.6 317.5H52.6 M371.3 317.5H364.3" stroke="#000" stroke-width="1" fill="none"/>
<path d="M45.6 16.6V479.1 M371.3 16.6V479.1" stroke="#000" stroke-width="1.3" fill="none"/>
<path d="M45 17.6H371.9 M45 478.1H371.9" stroke="#000" stroke-width="1.9" fill="none"/>
<path d="M45 317.5H371.9" stroke="#000" stroke-width="1.4" fill="none"/>
<text x="51.2" y="13.8" font-size="12" text-anchor="start" fill="#000" font-family="Liberation Sans, sans-serif" textLength="64" lengthAdjust="spacingAndGlyphs">900 GeV pp</text>
<text x="367" y="13.8" font-size="12" text-anchor="end" fill="#000" font-family="Liberation Sans, sans-serif" textLength="51.6" lengthAdjust="spacingAndGlyphs">Soft QCD</text>
<text x="84.5" y="43.9" font-size="12.4" text-anchor="start" fill="#000" font-family="Liberation Sans, sans-serif" textLength="107.2" lengthAdjust="spacingAndGlyphs">Charged multiplicity,</text>
<text x="196.3" y="43.9" font-size="12.4" text-anchor="start" fill="#000" font-family="Liberation Sans, sans-serif" textLength="39.8" lengthAdjust="spacingAndGlyphs">η|&lt;1.0 ,</text>
<path d="M197.1 34.9V45.4" stroke="#000" stroke-width="1"/>
<path d="M235.4 39.6L236.4 38.6L238.4 43.8L240.4 33.5H247.3" fill="none" stroke="#000" stroke-width="0.9"/>
<text x="241" y="43.9" font-size="12.4" text-anchor="start" fill="#000" font-family="Liberation Sans, sans-serif" textLength="93.6" lengthAdjust="spacingAndGlyphs">s=0.9 TeV (INEL)</text>
<text x="39.9" y="65" font-size="10.8" text-anchor="end" fill="#000" font-family="Liberation Sans, sans-serif" >1</text>
<text x="33.5" y="111.6" font-size="10.8" text-anchor="end" font-family="Liberation Sans, sans-serif">10</text>
<text x="33.8" y="107.3" font-size="8" textLength="6.9" lengthAdjust="spacingAndGlyphs" font-family="Liberation Sans, sans-serif">−1</text>
<text x="31.6" y="157" font-size="10.8" text-anchor="end" font-family="Liberation Sans, sans-serif">10</text>
<text x="31.9" y="152.7" font-size="8" textLength="6.9" lengthAdjust="spacingAndGlyphs" font-family="Liberation Sans, sans-serif">−2</text>
<text x="31.6" y="202.4" font-size="10.8" text-anchor="end" font-family="Liberation Sans, sans-serif">10</text>
<text x="31.9" y="198.1" font-size="8" textLength="6.9" lengthAdjust="spacingAndGlyphs" font-family="Liberation Sans, sans-serif">−3</text>
<text x="31.6" y="247.8" font-size="10.8" text-anchor="end" font-family="Liberation Sans, sans-serif">10</text>
<text x="31.9" y="243.5" font-size="8" textLength="6.9" lengthAdjust="spacingAndGlyphs" font-family="Liberation Sans, sans-serif">−4</text>
<text x="31.6" y="293.2" font-size="10.8" text-anchor="end" font-family="Liberation Sans, sans-serif">10</text>
<text x="31.9" y="288.9" font-size="8" textLength="6.9" lengthAdjust="spacingAndGlyphs" font-family="Liberation Sans, sans-serif">−5</text>
<text x="38.5" y="340.89" font-size="10.8" text-anchor="end" fill="#000" font-family="Liberation Sans, sans-serif" >2</text>
<text x="38.5" y="401.4" font-size="10.8" text-anchor="end" fill="#000" font-family="Liberation Sans, sans-serif" >1</text>
<text x="38.5" y="461.91" font-size="10.8" text-anchor="end" fill="#000" font-family="Liberation Sans, sans-serif" >0.5</text>
<text x="55.3" y="489.7" font-size="11.5" text-anchor="middle" fill="#000" font-family="Liberation Sans, sans-serif" textLength="5.6" lengthAdjust="spacingAndGlyphs">0</text>
<text x="128.15" y="489.7" font-size="11.5" text-anchor="middle" fill="#000" font-family="Liberation Sans, sans-serif" textLength="11.3" lengthAdjust="spacingAndGlyphs">10</text>
<text x="201" y="489.7" font-size="11.5" text-anchor="middle" fill="#000" font-family="Liberation Sans, sans-serif" textLength="11.3" lengthAdjust="spacingAndGlyphs">20</text>
<text x="273.85" y="489.7" font-size="11.5" text-anchor="middle" fill="#000" font-family="Liberation Sans, sans-serif" textLength="11.3" lengthAdjust="spacingAndGlyphs">30</text>
<text x="346.7" y="489.7" font-size="11.5" text-anchor="middle" fill="#000" font-family="Liberation Sans, sans-serif" textLength="11.3" lengthAdjust="spacingAndGlyphs">40</text>
<text x="354.6" y="502.7" font-size="12.5" text-anchor="start" fill="#000" font-family="Liberation Sans, sans-serif" textLength="7.4" lengthAdjust="spacingAndGlyphs">N</text>
<text x="362.8" y="506.6" font-size="8" text-anchor="start" fill="#000" font-family="Liberation Sans, sans-serif" >ch</text>
<g transform="translate(15.4,58.5) rotate(-90)"><text x="0" y="0" font-size="12.5" text-anchor="start" fill="#000" font-family="Liberation Sans, sans-serif" textLength="32.8" lengthAdjust="spacingAndGlyphs">dN/dN</text><text x="33.7" y="3.6" font-size="8.3" text-anchor="start" fill="#000" font-family="Liberation Sans, sans-serif" textLength="6.4" lengthAdjust="spacingAndGlyphs">ch</text></g>
<g transform="translate(19.0,426.4) rotate(-90)"><text x="0" y="0" font-size="10.3" text-anchor="start" fill="#000" font-family="Liberation Sans, sans-serif" textLength="59.4" lengthAdjust="spacingAndGlyphs">Ratio to ALICE</text></g>
<g transform="translate(379.8,126.3) rotate(-90)"><text x="0" y="0" font-size="9.3" text-anchor="start" fill="#777" font-family="Liberation Sans, sans-serif" textLength="108" lengthAdjust="spacingAndGlyphs">Rivet 4.1.0, ≥ 100k events</text></g>
<g transform="translate(380.6,313.4) rotate(-90)"><text x="0" y="0" font-size="9.3" text-anchor="start" fill="#777" font-family="Liberation Sans, sans-serif" textLength="141.5" lengthAdjust="spacingAndGlyphs">mcplots.cern.ch [arXiv:1306.3436]</text></g>
<text x="167.3" y="302.2" font-size="8.5" text-anchor="start" fill="#888" font-family="Liberation Sans, sans-serif" textLength="82" lengthAdjust="spacingAndGlyphs">(ALICE_2010_I852450)</text>
<rect x="74" y="221.2" width="5.6" height="5.6" fill="#000"/>
<text x="94.2" y="226.9" font-size="9.5" text-anchor="start" fill="#000" font-family="Liberation Sans, sans-serif" >ALICE</text>
<line x1="64" y1="237.2" x2="88.5" y2="237.2" stroke="#b0601e" stroke-width="1" stroke-dasharray="1.7,1.7"/>
<circle cx="76.6" cy="237.2" r="2.7" fill="none" stroke="#b0601e" stroke-width="1.1"/>
<text x="94.7" y="240.1" font-size="9.5" text-anchor="start" fill="#000" font-family="Liberation Sans, sans-serif" textLength="93.9" lengthAdjust="spacingAndGlyphs">Herwig++ 2.7.1 default</text>
<line x1="64" y1="250.1" x2="88.5" y2="250.1" stroke="#3c9a2e" stroke-width="1" stroke-dasharray="1.7,1.7"/>
<rect x="74.15" y="247.65" width="4.9" height="4.9" fill="none" stroke="#3c9a2e" stroke-width="1.1"/>
<text x="94.7" y="253" font-size="9.5" text-anchor="start" fill="#000" font-family="Liberation Sans, sans-serif" textLength="82.5" lengthAdjust="spacingAndGlyphs">Herwig 7.2.1 default</text>
<line x1="64" y1="263.1" x2="88.5" y2="263.1" stroke="#0000ff" stroke-width="1"/>
<path d="M76.6 259.9L79.6 265.5L73.6 265.5Z" fill="#0000ff"/>
<text x="94.7" y="266" font-size="9.5" text-anchor="start" fill="#000" font-family="Liberation Sans, sans-serif" textLength="83.1" lengthAdjust="spacingAndGlyphs">Pythia 8.315 default</text>
<line x1="64" y1="276.3" x2="88.5" y2="276.3" stroke="#ff0000" stroke-width="1" stroke-dasharray="0.9,0.9"/>
<path d="M76.6 273L78.9 276.3L76.6 279.6L74.3 276.3Z" fill="#ff0000"/>
<text x="94.7" y="279.2" font-size="9.5" text-anchor="start" fill="#000" font-family="Liberation Sans, sans-serif" textLength="83.7" lengthAdjust="spacingAndGlyphs">Sherpa 2.2.9 default</text>
</svg></body></html>
